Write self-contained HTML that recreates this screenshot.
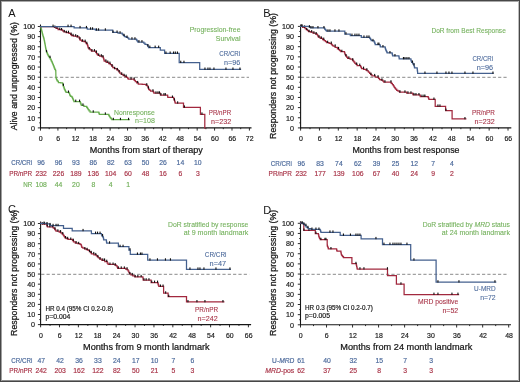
<!DOCTYPE html>
<html><head><meta charset="utf-8"><style>
html,body{margin:0;padding:0;background:#fff;}
body{width:520px;height:382px;overflow:hidden;}
svg{display:block;font-family:"Liberation Sans", sans-serif;will-change:transform;}

</style></head><body>
<svg width="520" height="382" viewBox="0 0 520 382">
<rect x="0" y="0" width="520" height="382" fill="#fff"/>
<text x="8.3" y="16.7" font-size="11" fill="#161616" stroke="#161616" stroke-width="0" text-anchor="start">A</text>
<text transform="translate(16.5,130.3) rotate(-90)" x="0" y="0" font-size="9.8" fill="#161616" stroke="#161616" stroke-width="0.26" textLength="108.2" lengthAdjust="spacingAndGlyphs">Alive and unprogressed (%)</text>
<line x1="44.10" y1="77.30" x2="249.00" y2="77.30" stroke="#8a8a8a" stroke-width="1.0" stroke-dasharray="3.2,2.13"/>
<line x1="40.50" y1="24.50" x2="40.50" y2="128.40" stroke="#161616" stroke-width="1.1"/>
<line x1="40.00" y1="127.90" x2="251.50" y2="127.90" stroke="#161616" stroke-width="1.1"/>
<line x1="37.80" y1="127.90" x2="40.50" y2="127.90" stroke="#161616" stroke-width="0.9"/>
<line x1="39.20" y1="122.83" x2="40.50" y2="122.83" stroke="#161616" stroke-width="0.9"/>
<text x="35.1" y="130.7" font-size="7.6" fill="#161616" stroke="#161616" stroke-width="0.18" text-anchor="end" textLength="4.0" lengthAdjust="spacingAndGlyphs">0</text>
<line x1="37.80" y1="117.76" x2="40.50" y2="117.76" stroke="#161616" stroke-width="0.9"/>
<line x1="39.20" y1="112.69" x2="40.50" y2="112.69" stroke="#161616" stroke-width="0.9"/>
<text x="35.1" y="120.5" font-size="7.6" fill="#161616" stroke="#161616" stroke-width="0.18" text-anchor="end" textLength="7.9" lengthAdjust="spacingAndGlyphs">10</text>
<line x1="37.80" y1="107.62" x2="40.50" y2="107.62" stroke="#161616" stroke-width="0.9"/>
<line x1="39.20" y1="102.55" x2="40.50" y2="102.55" stroke="#161616" stroke-width="0.9"/>
<text x="35.1" y="110.4" font-size="7.6" fill="#161616" stroke="#161616" stroke-width="0.18" text-anchor="end" textLength="7.9" lengthAdjust="spacingAndGlyphs">20</text>
<line x1="37.80" y1="97.48" x2="40.50" y2="97.48" stroke="#161616" stroke-width="0.9"/>
<line x1="39.20" y1="92.41" x2="40.50" y2="92.41" stroke="#161616" stroke-width="0.9"/>
<text x="35.1" y="100.2" font-size="7.6" fill="#161616" stroke="#161616" stroke-width="0.18" text-anchor="end" textLength="7.9" lengthAdjust="spacingAndGlyphs">30</text>
<line x1="37.80" y1="87.34" x2="40.50" y2="87.34" stroke="#161616" stroke-width="0.9"/>
<line x1="39.20" y1="82.27" x2="40.50" y2="82.27" stroke="#161616" stroke-width="0.9"/>
<text x="35.1" y="90.1" font-size="7.6" fill="#161616" stroke="#161616" stroke-width="0.18" text-anchor="end" textLength="7.9" lengthAdjust="spacingAndGlyphs">40</text>
<line x1="37.80" y1="77.20" x2="40.50" y2="77.20" stroke="#161616" stroke-width="0.9"/>
<line x1="39.20" y1="72.13" x2="40.50" y2="72.13" stroke="#161616" stroke-width="0.9"/>
<text x="35.1" y="80.0" font-size="7.6" fill="#161616" stroke="#161616" stroke-width="0.18" text-anchor="end" textLength="7.9" lengthAdjust="spacingAndGlyphs">50</text>
<line x1="37.80" y1="67.06" x2="40.50" y2="67.06" stroke="#161616" stroke-width="0.9"/>
<line x1="39.20" y1="61.99" x2="40.50" y2="61.99" stroke="#161616" stroke-width="0.9"/>
<text x="35.1" y="69.8" font-size="7.6" fill="#161616" stroke="#161616" stroke-width="0.18" text-anchor="end" textLength="7.9" lengthAdjust="spacingAndGlyphs">60</text>
<line x1="37.80" y1="56.92" x2="40.50" y2="56.92" stroke="#161616" stroke-width="0.9"/>
<line x1="39.20" y1="51.85" x2="40.50" y2="51.85" stroke="#161616" stroke-width="0.9"/>
<text x="35.1" y="59.7" font-size="7.6" fill="#161616" stroke="#161616" stroke-width="0.18" text-anchor="end" textLength="7.9" lengthAdjust="spacingAndGlyphs">70</text>
<line x1="37.80" y1="46.78" x2="40.50" y2="46.78" stroke="#161616" stroke-width="0.9"/>
<line x1="39.20" y1="41.71" x2="40.50" y2="41.71" stroke="#161616" stroke-width="0.9"/>
<text x="35.1" y="49.5" font-size="7.6" fill="#161616" stroke="#161616" stroke-width="0.18" text-anchor="end" textLength="7.9" lengthAdjust="spacingAndGlyphs">80</text>
<line x1="37.80" y1="36.64" x2="40.50" y2="36.64" stroke="#161616" stroke-width="0.9"/>
<line x1="39.20" y1="31.57" x2="40.50" y2="31.57" stroke="#161616" stroke-width="0.9"/>
<text x="35.1" y="39.4" font-size="7.6" fill="#161616" stroke="#161616" stroke-width="0.18" text-anchor="end" textLength="7.9" lengthAdjust="spacingAndGlyphs">90</text>
<line x1="37.80" y1="26.50" x2="40.50" y2="26.50" stroke="#161616" stroke-width="0.9"/>
<text x="35.1" y="29.2" font-size="7.6" fill="#161616" stroke="#161616" stroke-width="0.18" text-anchor="end" textLength="11.9" lengthAdjust="spacingAndGlyphs">100</text>
<line x1="40.50" y1="127.90" x2="40.50" y2="130.60" stroke="#161616" stroke-width="0.9"/>
<line x1="49.20" y1="127.90" x2="49.20" y2="129.20" stroke="#161616" stroke-width="0.9"/>
<text x="40.8" y="140.9" font-size="7.6" fill="#161616" stroke="#161616" stroke-width="0.18" text-anchor="middle" textLength="3.9" lengthAdjust="spacingAndGlyphs">0</text>
<line x1="57.91" y1="127.90" x2="57.91" y2="130.60" stroke="#161616" stroke-width="0.9"/>
<line x1="66.61" y1="127.90" x2="66.61" y2="129.20" stroke="#161616" stroke-width="0.9"/>
<text x="58.2" y="140.9" font-size="7.6" fill="#161616" stroke="#161616" stroke-width="0.18" text-anchor="middle" textLength="3.9" lengthAdjust="spacingAndGlyphs">6</text>
<line x1="75.32" y1="127.90" x2="75.32" y2="130.60" stroke="#161616" stroke-width="0.9"/>
<line x1="84.02" y1="127.90" x2="84.02" y2="129.20" stroke="#161616" stroke-width="0.9"/>
<text x="75.6" y="140.9" font-size="7.6" fill="#161616" stroke="#161616" stroke-width="0.18" text-anchor="middle" textLength="7.7" lengthAdjust="spacingAndGlyphs">12</text>
<line x1="92.72" y1="127.90" x2="92.72" y2="130.60" stroke="#161616" stroke-width="0.9"/>
<line x1="101.43" y1="127.90" x2="101.43" y2="129.20" stroke="#161616" stroke-width="0.9"/>
<text x="93.0" y="140.9" font-size="7.6" fill="#161616" stroke="#161616" stroke-width="0.18" text-anchor="middle" textLength="7.7" lengthAdjust="spacingAndGlyphs">18</text>
<line x1="110.13" y1="127.90" x2="110.13" y2="130.60" stroke="#161616" stroke-width="0.9"/>
<line x1="118.84" y1="127.90" x2="118.84" y2="129.20" stroke="#161616" stroke-width="0.9"/>
<text x="110.4" y="140.9" font-size="7.6" fill="#161616" stroke="#161616" stroke-width="0.18" text-anchor="middle" textLength="7.7" lengthAdjust="spacingAndGlyphs">24</text>
<line x1="127.54" y1="127.90" x2="127.54" y2="130.60" stroke="#161616" stroke-width="0.9"/>
<line x1="136.25" y1="127.90" x2="136.25" y2="129.20" stroke="#161616" stroke-width="0.9"/>
<text x="127.8" y="140.9" font-size="7.6" fill="#161616" stroke="#161616" stroke-width="0.18" text-anchor="middle" textLength="7.7" lengthAdjust="spacingAndGlyphs">30</text>
<line x1="144.95" y1="127.90" x2="144.95" y2="130.60" stroke="#161616" stroke-width="0.9"/>
<line x1="153.65" y1="127.90" x2="153.65" y2="129.20" stroke="#161616" stroke-width="0.9"/>
<text x="145.2" y="140.9" font-size="7.6" fill="#161616" stroke="#161616" stroke-width="0.18" text-anchor="middle" textLength="7.7" lengthAdjust="spacingAndGlyphs">36</text>
<line x1="162.36" y1="127.90" x2="162.36" y2="130.60" stroke="#161616" stroke-width="0.9"/>
<line x1="171.06" y1="127.90" x2="171.06" y2="129.20" stroke="#161616" stroke-width="0.9"/>
<text x="162.7" y="140.9" font-size="7.6" fill="#161616" stroke="#161616" stroke-width="0.18" text-anchor="middle" textLength="7.7" lengthAdjust="spacingAndGlyphs">42</text>
<line x1="179.77" y1="127.90" x2="179.77" y2="130.60" stroke="#161616" stroke-width="0.9"/>
<line x1="188.47" y1="127.90" x2="188.47" y2="129.20" stroke="#161616" stroke-width="0.9"/>
<text x="180.1" y="140.9" font-size="7.6" fill="#161616" stroke="#161616" stroke-width="0.18" text-anchor="middle" textLength="7.7" lengthAdjust="spacingAndGlyphs">48</text>
<line x1="197.18" y1="127.90" x2="197.18" y2="130.60" stroke="#161616" stroke-width="0.9"/>
<line x1="205.88" y1="127.90" x2="205.88" y2="129.20" stroke="#161616" stroke-width="0.9"/>
<text x="197.5" y="140.9" font-size="7.6" fill="#161616" stroke="#161616" stroke-width="0.18" text-anchor="middle" textLength="7.7" lengthAdjust="spacingAndGlyphs">54</text>
<line x1="214.58" y1="127.90" x2="214.58" y2="130.60" stroke="#161616" stroke-width="0.9"/>
<line x1="223.29" y1="127.90" x2="223.29" y2="129.20" stroke="#161616" stroke-width="0.9"/>
<text x="214.9" y="140.9" font-size="7.6" fill="#161616" stroke="#161616" stroke-width="0.18" text-anchor="middle" textLength="7.7" lengthAdjust="spacingAndGlyphs">60</text>
<line x1="231.99" y1="127.90" x2="231.99" y2="130.60" stroke="#161616" stroke-width="0.9"/>
<line x1="240.70" y1="127.90" x2="240.70" y2="129.20" stroke="#161616" stroke-width="0.9"/>
<text x="232.3" y="140.9" font-size="7.6" fill="#161616" stroke="#161616" stroke-width="0.18" text-anchor="middle" textLength="7.7" lengthAdjust="spacingAndGlyphs">66</text>
<line x1="249.40" y1="127.90" x2="249.40" y2="130.60" stroke="#161616" stroke-width="0.9"/>
<text x="249.7" y="140.9" font-size="7.6" fill="#161616" stroke="#161616" stroke-width="0.18" text-anchor="middle" textLength="7.7" lengthAdjust="spacingAndGlyphs">72</text>
<text x="89.8" y="153.3" font-size="8.2" fill="#161616" stroke="#161616" stroke-width="0.2" text-anchor="start" textLength="113.0" lengthAdjust="spacingAndGlyphs">Months from start of therapy</text>
<polyline points="40.7,26.7 40.9,26.7 40.9,27.9 41.2,27.9 41.2,29.1 41.5,29.1 41.5,30.4 41.8,30.4 41.8,31.6 42.1,31.6 42.1,32.8 42.4,32.8 42.4,34.0 42.6,34.0 42.8,34.0 42.8,35.3 43.1,35.3 43.1,36.6 43.5,36.6 43.5,37.9 43.9,37.9 43.9,39.2 44.2,39.2 44.2,40.5 44.4,40.5 44.5,40.5 44.5,41.8 44.7,41.8 44.7,43.0 45.0,43.0 45.0,44.3 45.2,44.3 45.2,45.5 45.4,45.5 45.4,46.8 45.6,46.8 45.6,48.1 45.9,48.1 45.9,49.3 46.1,49.3 46.1,50.6 46.2,50.6 46.4,50.6 46.4,51.8 46.9,51.8 46.9,52.9 47.4,52.9 47.4,54.1 47.9,54.1 47.9,55.2 48.1,55.2 48.5,55.2 48.5,56.4 49.3,56.4 49.3,57.6 50.1,57.6 50.1,58.8 50.5,58.8 50.8,58.8 50.8,59.9 51.3,59.9 51.3,61.1 51.9,61.1 51.9,62.2 52.4,62.2 52.4,63.4 52.7,63.4 52.9,63.4 52.9,64.5 53.4,64.5 53.4,65.7 53.8,65.7 53.8,66.8 54.3,66.8 54.3,68.0 54.5,68.0 54.8,68.0 54.8,69.3 55.5,69.3 55.5,70.7 55.8,70.7 55.9,76.9 56.0,76.9 56.0,77.9 56.3,77.9 56.3,78.9 56.6,78.9 56.6,79.9 56.8,79.9 57.3,79.9 57.3,81.2 58.4,81.2 58.4,82.5 58.9,82.5 60.6,82.5 60.6,82.9 62.4,82.9 62.6,82.9 62.6,84.2 63.0,84.2 63.0,85.5 63.2,85.5 63.4,85.5 63.4,86.7 63.9,86.7 63.9,87.8 64.3,87.8 64.3,89.0 64.5,89.0 64.8,89.0 64.8,90.1 65.4,90.1 65.4,91.3 66.0,91.3 66.0,92.4 66.3,92.4 68.9,92.4 69.1,92.4 69.1,93.4 69.6,93.4 69.6,94.5 70.0,94.5 70.0,95.5 70.2,95.5 70.7,95.5 70.7,96.3 71.8,96.3 71.8,97.2 72.3,97.2 72.5,97.2 72.5,98.3 73.0,98.3 73.0,99.3 73.4,99.3 73.4,100.4 73.9,100.4 73.9,101.5 74.1,101.5 80.1,101.5 80.3,101.5 80.3,102.8 80.8,102.8 80.8,104.0 81.3,104.0 81.3,105.3 81.6,105.3 83.9,105.3 83.9,106.3 86.3,106.3 86.7,106.3 86.7,107.4 87.4,107.4 87.4,108.4 88.1,108.4 88.1,109.5 88.5,109.5 89.0,109.5 89.0,110.8 90.1,110.8 90.1,112.2 90.6,112.2 98.5,112.2 98.8,112.2 98.8,113.2 99.3,113.2 99.3,114.3 99.6,114.3 108.6,114.3 108.8,114.3 108.8,115.3 109.3,115.3 109.3,116.4 109.6,116.4 110.0,116.4 110.0,117.5 110.9,117.5 110.9,118.6 111.8,118.6 111.8,119.7 112.3,119.7 129.2,119.7" fill="none" stroke="#66ad4c" stroke-width="1.25" stroke-linejoin="miter" stroke-linecap="square"/>
<rect x="46.0" y="49.9" width="1.1" height="2.3" fill="#111"/>
<rect x="49.5" y="55.7" width="1.1" height="2.3" fill="#111"/>
<rect x="62.9" y="83.6" width="1.1" height="2.3" fill="#111"/>
<rect x="67.9" y="90.5" width="1.1" height="2.3" fill="#111"/>
<rect x="75.2" y="99.6" width="1.1" height="2.3" fill="#111"/>
<rect x="79.0" y="99.6" width="1.1" height="2.3" fill="#111"/>
<rect x="82.4" y="103.4" width="1.1" height="2.3" fill="#111"/>
<rect x="92.7" y="110.3" width="1.1" height="2.3" fill="#111"/>
<rect x="104.8" y="112.4" width="1.1" height="2.3" fill="#111"/>
<rect x="112.8" y="117.8" width="1.1" height="2.3" fill="#111"/>
<rect x="119.9" y="117.8" width="1.1" height="2.3" fill="#111"/>
<rect x="128.0" y="117.8" width="1.1" height="2.3" fill="#111"/>
<polyline points="40.5,26.5 53.6,26.5 54.4,26.5 54.4,27.4 56.0,27.4 56.0,28.3 56.8,28.3 58.1,28.3 58.1,29.5 59.5,29.5 60.7,29.5 60.7,29.9 61.9,29.9 62.6,29.9 62.6,30.9 63.9,30.9 63.9,31.8 64.6,31.8 66.2,31.8 66.2,32.6 67.8,32.6 68.9,32.6 68.9,33.4 70.1,33.4 70.6,33.4 70.6,34.5 71.6,34.5 71.6,35.7 72.1,35.7 73.5,35.7 73.5,36.1 74.9,36.1 76.8,36.1 76.8,36.9 78.8,36.9 79.1,36.9 79.1,38.0 79.6,38.0 79.6,39.0 80.1,39.0 80.1,40.1 80.4,40.1 81.6,40.1 81.6,41.2 82.7,41.2 83.9,41.2 83.9,41.5 85.1,41.5 85.5,41.5 85.5,42.6 86.3,42.6 86.3,43.6 87.1,43.6 87.1,44.7 87.5,44.7 87.6,44.7 87.6,45.7 87.9,45.7 87.9,46.8 88.2,46.8 88.2,47.8 88.3,47.8 89.0,47.8 89.0,48.9 90.2,48.9 90.2,49.9 91.5,49.9 91.5,51.0 92.2,51.0 95.4,51.0 95.8,51.0 95.8,52.4 96.5,52.4 96.5,53.7 96.9,53.7 97.3,53.7 97.3,54.5 98.1,54.5 98.1,55.3 98.5,55.3 99.7,55.3 99.7,56.1 102.0,56.1 102.0,56.9 103.2,56.9 103.4,56.9 103.4,58.0 103.7,58.0 103.7,59.0 104.0,59.0 104.0,60.1 104.2,60.1 104.2,61.2 104.4,61.2 106.2,61.2 106.2,62.4 107.9,62.4 108.7,62.4 108.7,63.5 110.3,63.5 110.3,64.7 111.1,64.7 111.7,64.7 111.7,66.1 112.8,66.1 112.8,67.5 113.4,67.5 114.5,67.5 114.5,68.7 116.8,68.7 116.8,69.8 117.9,69.8 118.3,69.8 118.3,70.9 119.1,70.9 119.1,71.9 119.8,71.9 119.8,73.0 120.2,73.0 121.2,73.0 121.2,74.3 123.1,74.3 123.1,75.7 124.1,75.7 124.9,75.7 124.9,76.5 126.5,76.5 126.5,77.3 127.3,77.3 127.6,77.3 127.6,78.2 128.2,78.2 128.2,79.2 128.5,79.2 133.6,79.2 134.2,79.2 134.2,80.4 135.3,80.4 135.3,81.6 135.9,81.6 136.7,81.6 136.7,82.8 138.3,82.8 138.3,84.0 139.1,84.0 142.2,84.0 142.2,84.4 145.3,84.4 145.9,84.4 145.9,85.2 147.1,85.2 147.1,85.9 147.7,85.9 147.9,85.9 147.9,87.1 148.3,87.1 148.3,88.2 148.7,88.2 148.7,89.4 148.9,89.4 149.4,89.4 149.4,90.2 150.6,90.2 150.6,91.1 151.1,91.1 153.2,91.1 153.4,91.1 153.4,92.2 153.9,92.2 153.9,93.2 154.1,93.2 160.1,93.2 160.2,93.2 160.2,94.1 160.5,94.1 160.5,95.0 160.6,95.0 167.5,95.0 167.6,95.0 167.6,96.2 167.8,96.2 167.8,97.4 167.9,97.4 173.5,97.4 173.7,97.4 173.7,98.8 174.2,98.8 174.2,100.2 174.4,100.2 174.6,100.2 174.6,101.2 174.9,101.2 174.9,102.2 175.2,102.2 175.2,103.2 175.3,103.2 183.5,103.2 183.5,107.3 200.4,107.3 200.4,114.3 204.8,114.3 204.8,128.0" fill="none" stroke="#a2283e" stroke-width="1.25" stroke-linejoin="miter" stroke-linecap="square"/>
<rect x="54.3" y="25.5" width="1.1" height="2.3" fill="#111"/>
<rect x="56.5" y="26.4" width="1.1" height="2.3" fill="#111"/>
<rect x="59.2" y="27.6" width="1.1" height="2.3" fill="#111"/>
<rect x="61.0" y="28.0" width="1.1" height="2.3" fill="#111"/>
<rect x="63.7" y="29.9" width="1.1" height="2.3" fill="#111"/>
<rect x="65.8" y="30.7" width="1.1" height="2.3" fill="#111"/>
<rect x="67.9" y="30.7" width="1.1" height="2.3" fill="#111"/>
<rect x="70.6" y="32.6" width="1.1" height="2.3" fill="#111"/>
<rect x="72.5" y="33.8" width="1.1" height="2.3" fill="#111"/>
<rect x="75.1" y="34.2" width="1.1" height="2.3" fill="#111"/>
<rect x="77.1" y="35.0" width="1.1" height="2.3" fill="#111"/>
<rect x="79.4" y="37.1" width="1.1" height="2.3" fill="#111"/>
<rect x="82.0" y="39.3" width="1.1" height="2.3" fill="#111"/>
<rect x="84.6" y="39.6" width="1.1" height="2.3" fill="#111"/>
<rect x="86.3" y="41.7" width="1.1" height="2.3" fill="#111"/>
<rect x="88.7" y="47.0" width="1.1" height="2.3" fill="#111"/>
<rect x="91.4" y="49.1" width="1.1" height="2.3" fill="#111"/>
<rect x="93.9" y="49.1" width="1.1" height="2.3" fill="#111"/>
<rect x="95.9" y="50.5" width="1.1" height="2.3" fill="#111"/>
<rect x="98.1" y="53.4" width="1.1" height="2.3" fill="#111"/>
<rect x="100.8" y="54.2" width="1.1" height="2.3" fill="#111"/>
<rect x="102.4" y="55.0" width="1.1" height="2.3" fill="#111"/>
<rect x="105.3" y="59.3" width="1.1" height="2.3" fill="#111"/>
<rect x="107.2" y="60.5" width="1.1" height="2.3" fill="#111"/>
<rect x="109.4" y="61.6" width="1.1" height="2.3" fill="#111"/>
<rect x="111.6" y="64.2" width="1.1" height="2.3" fill="#111"/>
<rect x="114.1" y="66.8" width="1.1" height="2.3" fill="#111"/>
<rect x="116.8" y="67.9" width="1.1" height="2.3" fill="#111"/>
<rect x="118.6" y="70.0" width="1.1" height="2.3" fill="#111"/>
<rect x="121.2" y="72.4" width="1.1" height="2.3" fill="#111"/>
<rect x="123.6" y="73.8" width="1.1" height="2.3" fill="#111"/>
<rect x="125.6" y="74.6" width="1.1" height="2.3" fill="#111"/>
<rect x="130.5" y="77.3" width="1.1" height="2.3" fill="#111"/>
<rect x="133.6" y="77.3" width="1.1" height="2.3" fill="#111"/>
<rect x="137.1" y="80.9" width="1.1" height="2.3" fill="#111"/>
<rect x="146.2" y="83.2" width="1.1" height="2.3" fill="#111"/>
<rect x="147.9" y="86.3" width="1.1" height="2.3" fill="#111"/>
<rect x="152.4" y="89.2" width="1.1" height="2.3" fill="#111"/>
<rect x="155.4" y="91.3" width="1.1" height="2.3" fill="#111"/>
<rect x="157.4" y="91.3" width="1.1" height="2.3" fill="#111"/>
<rect x="158.9" y="91.3" width="1.1" height="2.3" fill="#111"/>
<rect x="160.4" y="93.1" width="1.1" height="2.3" fill="#111"/>
<rect x="163.4" y="93.1" width="1.1" height="2.3" fill="#111"/>
<rect x="164.8" y="93.1" width="1.1" height="2.3" fill="#111"/>
<rect x="171.9" y="95.5" width="1.1" height="2.3" fill="#111"/>
<rect x="173.9" y="98.3" width="1.1" height="2.3" fill="#111"/>
<rect x="177.1" y="101.3" width="1.1" height="2.3" fill="#111"/>
<rect x="183.9" y="105.4" width="1.1" height="2.3" fill="#111"/>
<rect x="201.4" y="112.4" width="1.1" height="2.3" fill="#111"/>
<polyline points="40.5,26.5 74.1,26.5 74.1,27.8 87.3,27.8 87.3,29.2 95.4,29.2 95.4,30.2 112.7,30.2 112.7,32.4 118.0,32.4 118.0,33.1 121.9,33.1 122.2,33.1 122.2,34.0 122.9,34.0 122.9,34.8 123.2,34.8 123.6,34.8 123.6,35.6 124.5,35.6 124.5,36.5 124.9,36.5 126.2,36.5 126.2,37.4 127.5,37.4 127.9,37.4 127.9,38.2 128.8,38.2 128.8,39.1 129.2,39.1 136.1,39.1 136.5,39.1 136.5,40.1 137.2,40.1 137.2,41.0 137.9,41.0 137.9,42.0 138.3,42.0 143.1,42.0 143.8,42.0 143.8,43.1 145.0,43.1 145.0,44.3 145.7,44.3 146.6,44.3 146.6,44.7 147.4,44.7 147.8,44.7 147.8,46.1 148.5,46.1 148.5,47.5 148.9,47.5 160.3,47.5 160.3,50.2 164.6,50.2 164.6,53.4 179.2,53.4 179.2,62.6 199.7,62.6 199.7,69.4 240.5,69.4" fill="none" stroke="#44608e" stroke-width="1.25" stroke-linejoin="miter" stroke-linecap="square"/>
<rect x="52.5" y="24.6" width="1.1" height="2.3" fill="#111"/>
<rect x="67.5" y="24.6" width="1.1" height="2.3" fill="#111"/>
<rect x="70.5" y="24.6" width="1.1" height="2.3" fill="#111"/>
<rect x="79.5" y="25.9" width="1.1" height="2.3" fill="#111"/>
<rect x="85.9" y="25.9" width="1.1" height="2.3" fill="#111"/>
<rect x="90.0" y="27.3" width="1.1" height="2.3" fill="#111"/>
<rect x="92.0" y="27.3" width="1.1" height="2.3" fill="#111"/>
<rect x="96.0" y="28.3" width="1.1" height="2.3" fill="#111"/>
<rect x="98.0" y="28.3" width="1.1" height="2.3" fill="#111"/>
<rect x="104.8" y="28.3" width="1.1" height="2.3" fill="#111"/>
<rect x="112.5" y="30.5" width="1.1" height="2.3" fill="#111"/>
<rect x="116.5" y="30.5" width="1.1" height="2.3" fill="#111"/>
<rect x="119.5" y="31.2" width="1.1" height="2.3" fill="#111"/>
<rect x="123.5" y="33.8" width="1.1" height="2.3" fill="#111"/>
<rect x="126.5" y="35.5" width="1.1" height="2.3" fill="#111"/>
<rect x="131.4" y="37.2" width="1.1" height="2.3" fill="#111"/>
<rect x="134.4" y="37.2" width="1.1" height="2.3" fill="#111"/>
<rect x="138.4" y="40.1" width="1.1" height="2.3" fill="#111"/>
<rect x="141.4" y="40.1" width="1.1" height="2.3" fill="#111"/>
<rect x="147.3" y="44.2" width="1.1" height="2.3" fill="#111"/>
<rect x="149.3" y="45.6" width="1.1" height="2.3" fill="#111"/>
<rect x="154.6" y="45.6" width="1.1" height="2.3" fill="#111"/>
<rect x="158.1" y="45.6" width="1.1" height="2.3" fill="#111"/>
<rect x="165.4" y="51.5" width="1.1" height="2.3" fill="#111"/>
<rect x="169.6" y="51.5" width="1.1" height="2.3" fill="#111"/>
<rect x="173.0" y="51.5" width="1.1" height="2.3" fill="#111"/>
<rect x="174.8" y="51.5" width="1.1" height="2.3" fill="#111"/>
<rect x="176.9" y="51.5" width="1.1" height="2.3" fill="#111"/>
<rect x="180.2" y="60.7" width="1.1" height="2.3" fill="#111"/>
<rect x="183.4" y="60.7" width="1.1" height="2.3" fill="#111"/>
<rect x="204.4" y="67.5" width="1.1" height="2.3" fill="#111"/>
<rect x="207.4" y="67.5" width="1.1" height="2.3" fill="#111"/>
<rect x="209.4" y="67.5" width="1.1" height="2.3" fill="#111"/>
<rect x="213.4" y="67.5" width="1.1" height="2.3" fill="#111"/>
<rect x="225.4" y="67.5" width="1.1" height="2.3" fill="#111"/>
<rect x="232.4" y="67.5" width="1.1" height="2.3" fill="#111"/>
<rect x="239.4" y="67.5" width="1.1" height="2.3" fill="#111"/>
<text x="240.5" y="32.4" font-size="8.0" fill="#72b05a" stroke="#72b05a" stroke-width="0.1" text-anchor="end" textLength="50.8" lengthAdjust="spacingAndGlyphs">Progression-free</text>
<text x="240.5" y="41.4" font-size="8.0" fill="#72b05a" stroke="#72b05a" stroke-width="0.1" text-anchor="end" textLength="24.7" lengthAdjust="spacingAndGlyphs">Survival</text>
<text x="240.2" y="56.0" font-size="8.0" fill="#4a689a" stroke="#4a689a" stroke-width="0.1" text-anchor="end" textLength="20.9" lengthAdjust="spacingAndGlyphs">CR/CRi</text>
<text x="240.2" y="64.6" font-size="8.0" fill="#4a689a" stroke="#4a689a" stroke-width="0.1" text-anchor="end" textLength="16.2" lengthAdjust="spacingAndGlyphs">n=96</text>
<text x="154.8" y="114.6" font-size="8.0" fill="#72b05a" stroke="#72b05a" stroke-width="0.1" text-anchor="end" textLength="40.8" lengthAdjust="spacingAndGlyphs">Nonresponse</text>
<text x="154.8" y="123.3" font-size="8.0" fill="#72b05a" stroke="#72b05a" stroke-width="0.1" text-anchor="end" textLength="19.8" lengthAdjust="spacingAndGlyphs">n=108</text>
<text x="231.1" y="115.4" font-size="8.0" fill="#a83347" stroke="#a83347" stroke-width="0.1" text-anchor="end" textLength="22.3" lengthAdjust="spacingAndGlyphs">PR/nPR</text>
<text x="231.1" y="124.1" font-size="8.0" fill="#a83347" stroke="#a83347" stroke-width="0.1" text-anchor="end" textLength="20.0" lengthAdjust="spacingAndGlyphs">n=232</text>
<text x="32.2" y="165.3" font-size="7.6" fill="#4a689a" stroke="#4a689a" stroke-width="0.18" text-anchor="end" textLength="21.0" lengthAdjust="spacingAndGlyphs">CR/CRi</text>
<text x="41.1" y="165.3" font-size="7.6" fill="#4a689a" stroke="#4a689a" stroke-width="0.18" text-anchor="middle" textLength="7.6" lengthAdjust="spacingAndGlyphs">96</text>
<text x="58.5" y="165.3" font-size="7.6" fill="#4a689a" stroke="#4a689a" stroke-width="0.18" text-anchor="middle" textLength="7.6" lengthAdjust="spacingAndGlyphs">96</text>
<text x="75.9" y="165.3" font-size="7.6" fill="#4a689a" stroke="#4a689a" stroke-width="0.18" text-anchor="middle" textLength="7.6" lengthAdjust="spacingAndGlyphs">93</text>
<text x="93.3" y="165.3" font-size="7.6" fill="#4a689a" stroke="#4a689a" stroke-width="0.18" text-anchor="middle" textLength="7.6" lengthAdjust="spacingAndGlyphs">86</text>
<text x="110.7" y="165.3" font-size="7.6" fill="#4a689a" stroke="#4a689a" stroke-width="0.18" text-anchor="middle" textLength="7.6" lengthAdjust="spacingAndGlyphs">82</text>
<text x="128.1" y="165.3" font-size="7.6" fill="#4a689a" stroke="#4a689a" stroke-width="0.18" text-anchor="middle" textLength="7.6" lengthAdjust="spacingAndGlyphs">63</text>
<text x="145.5" y="165.3" font-size="7.6" fill="#4a689a" stroke="#4a689a" stroke-width="0.18" text-anchor="middle" textLength="7.6" lengthAdjust="spacingAndGlyphs">50</text>
<text x="163.0" y="165.3" font-size="7.6" fill="#4a689a" stroke="#4a689a" stroke-width="0.18" text-anchor="middle" textLength="7.6" lengthAdjust="spacingAndGlyphs">26</text>
<text x="180.4" y="165.3" font-size="7.6" fill="#4a689a" stroke="#4a689a" stroke-width="0.18" text-anchor="middle" textLength="7.6" lengthAdjust="spacingAndGlyphs">14</text>
<text x="197.8" y="165.3" font-size="7.6" fill="#4a689a" stroke="#4a689a" stroke-width="0.18" text-anchor="middle" textLength="7.6" lengthAdjust="spacingAndGlyphs">10</text>
<text x="32.2" y="176.1" font-size="7.6" fill="#a83347" stroke="#a83347" stroke-width="0.18" text-anchor="end" textLength="23.0" lengthAdjust="spacingAndGlyphs">PR/nPR</text>
<text x="41.1" y="176.1" font-size="7.6" fill="#a83347" stroke="#a83347" stroke-width="0.18" text-anchor="middle" textLength="11.4" lengthAdjust="spacingAndGlyphs">232</text>
<text x="58.5" y="176.1" font-size="7.6" fill="#a83347" stroke="#a83347" stroke-width="0.18" text-anchor="middle" textLength="11.4" lengthAdjust="spacingAndGlyphs">226</text>
<text x="75.9" y="176.1" font-size="7.6" fill="#a83347" stroke="#a83347" stroke-width="0.18" text-anchor="middle" textLength="11.4" lengthAdjust="spacingAndGlyphs">189</text>
<text x="93.3" y="176.1" font-size="7.6" fill="#a83347" stroke="#a83347" stroke-width="0.18" text-anchor="middle" textLength="11.4" lengthAdjust="spacingAndGlyphs">136</text>
<text x="110.7" y="176.1" font-size="7.6" fill="#a83347" stroke="#a83347" stroke-width="0.18" text-anchor="middle" textLength="11.4" lengthAdjust="spacingAndGlyphs">104</text>
<text x="128.1" y="176.1" font-size="7.6" fill="#a83347" stroke="#a83347" stroke-width="0.18" text-anchor="middle" textLength="7.6" lengthAdjust="spacingAndGlyphs">60</text>
<text x="145.5" y="176.1" font-size="7.6" fill="#a83347" stroke="#a83347" stroke-width="0.18" text-anchor="middle" textLength="7.6" lengthAdjust="spacingAndGlyphs">48</text>
<text x="163.0" y="176.1" font-size="7.6" fill="#a83347" stroke="#a83347" stroke-width="0.18" text-anchor="middle" textLength="7.6" lengthAdjust="spacingAndGlyphs">16</text>
<text x="180.4" y="176.1" font-size="7.6" fill="#a83347" stroke="#a83347" stroke-width="0.18" text-anchor="middle" textLength="3.8" lengthAdjust="spacingAndGlyphs">6</text>
<text x="197.8" y="176.1" font-size="7.6" fill="#a83347" stroke="#a83347" stroke-width="0.18" text-anchor="middle" textLength="3.8" lengthAdjust="spacingAndGlyphs">3</text>
<text x="32.2" y="186.7" font-size="7.6" fill="#72b05a" stroke="#72b05a" stroke-width="0.18" text-anchor="end" textLength="9.0" lengthAdjust="spacingAndGlyphs">NR</text>
<text x="41.1" y="186.7" font-size="7.6" fill="#72b05a" stroke="#72b05a" stroke-width="0.18" text-anchor="middle" textLength="11.4" lengthAdjust="spacingAndGlyphs">108</text>
<text x="58.5" y="186.7" font-size="7.6" fill="#72b05a" stroke="#72b05a" stroke-width="0.18" text-anchor="middle" textLength="7.6" lengthAdjust="spacingAndGlyphs">44</text>
<text x="75.9" y="186.7" font-size="7.6" fill="#72b05a" stroke="#72b05a" stroke-width="0.18" text-anchor="middle" textLength="7.6" lengthAdjust="spacingAndGlyphs">20</text>
<text x="93.3" y="186.7" font-size="7.6" fill="#72b05a" stroke="#72b05a" stroke-width="0.18" text-anchor="middle" textLength="3.8" lengthAdjust="spacingAndGlyphs">8</text>
<text x="110.7" y="186.7" font-size="7.6" fill="#72b05a" stroke="#72b05a" stroke-width="0.18" text-anchor="middle" textLength="3.8" lengthAdjust="spacingAndGlyphs">4</text>
<text x="128.1" y="186.7" font-size="7.6" fill="#72b05a" stroke="#72b05a" stroke-width="0.18" text-anchor="middle" textLength="3.8" lengthAdjust="spacingAndGlyphs">1</text>
<text x="263.3" y="16.6" font-size="11" fill="#161616" stroke="#161616" stroke-width="0" text-anchor="start">B</text>
<text transform="translate(276.2,138.9) rotate(-90)" x="0" y="0" font-size="9.8" fill="#161616" stroke="#161616" stroke-width="0.26" textLength="125.8" lengthAdjust="spacingAndGlyphs">Responders not progressing (%)</text>
<line x1="300.90" y1="77.30" x2="508.00" y2="77.30" stroke="#8a8a8a" stroke-width="1.0" stroke-dasharray="3.2,2.13"/>
<line x1="300.60" y1="24.40" x2="300.60" y2="128.40" stroke="#161616" stroke-width="1.1"/>
<line x1="300.10" y1="127.90" x2="511.30" y2="127.90" stroke="#161616" stroke-width="1.1"/>
<line x1="297.90" y1="127.90" x2="300.60" y2="127.90" stroke="#161616" stroke-width="0.9"/>
<line x1="299.30" y1="122.83" x2="300.60" y2="122.83" stroke="#161616" stroke-width="0.9"/>
<text x="293.9" y="130.7" font-size="7.6" fill="#161616" stroke="#161616" stroke-width="0.18" text-anchor="end" textLength="4.0" lengthAdjust="spacingAndGlyphs">0</text>
<line x1="297.90" y1="117.75" x2="300.60" y2="117.75" stroke="#161616" stroke-width="0.9"/>
<line x1="299.30" y1="112.67" x2="300.60" y2="112.67" stroke="#161616" stroke-width="0.9"/>
<text x="293.9" y="120.5" font-size="7.6" fill="#161616" stroke="#161616" stroke-width="0.18" text-anchor="end" textLength="7.9" lengthAdjust="spacingAndGlyphs">10</text>
<line x1="297.90" y1="107.60" x2="300.60" y2="107.60" stroke="#161616" stroke-width="0.9"/>
<line x1="299.30" y1="102.53" x2="300.60" y2="102.53" stroke="#161616" stroke-width="0.9"/>
<text x="293.9" y="110.4" font-size="7.6" fill="#161616" stroke="#161616" stroke-width="0.18" text-anchor="end" textLength="7.9" lengthAdjust="spacingAndGlyphs">20</text>
<line x1="297.90" y1="97.45" x2="300.60" y2="97.45" stroke="#161616" stroke-width="0.9"/>
<line x1="299.30" y1="92.38" x2="300.60" y2="92.38" stroke="#161616" stroke-width="0.9"/>
<text x="293.9" y="100.2" font-size="7.6" fill="#161616" stroke="#161616" stroke-width="0.18" text-anchor="end" textLength="7.9" lengthAdjust="spacingAndGlyphs">30</text>
<line x1="297.90" y1="87.30" x2="300.60" y2="87.30" stroke="#161616" stroke-width="0.9"/>
<line x1="299.30" y1="82.23" x2="300.60" y2="82.23" stroke="#161616" stroke-width="0.9"/>
<text x="293.9" y="90.1" font-size="7.6" fill="#161616" stroke="#161616" stroke-width="0.18" text-anchor="end" textLength="7.9" lengthAdjust="spacingAndGlyphs">40</text>
<line x1="297.90" y1="77.15" x2="300.60" y2="77.15" stroke="#161616" stroke-width="0.9"/>
<line x1="299.30" y1="72.08" x2="300.60" y2="72.08" stroke="#161616" stroke-width="0.9"/>
<text x="293.9" y="79.9" font-size="7.6" fill="#161616" stroke="#161616" stroke-width="0.18" text-anchor="end" textLength="7.9" lengthAdjust="spacingAndGlyphs">50</text>
<line x1="297.90" y1="67.00" x2="300.60" y2="67.00" stroke="#161616" stroke-width="0.9"/>
<line x1="299.30" y1="61.93" x2="300.60" y2="61.93" stroke="#161616" stroke-width="0.9"/>
<text x="293.9" y="69.8" font-size="7.6" fill="#161616" stroke="#161616" stroke-width="0.18" text-anchor="end" textLength="7.9" lengthAdjust="spacingAndGlyphs">60</text>
<line x1="297.90" y1="56.85" x2="300.60" y2="56.85" stroke="#161616" stroke-width="0.9"/>
<line x1="299.30" y1="51.78" x2="300.60" y2="51.78" stroke="#161616" stroke-width="0.9"/>
<text x="293.9" y="59.6" font-size="7.6" fill="#161616" stroke="#161616" stroke-width="0.18" text-anchor="end" textLength="7.9" lengthAdjust="spacingAndGlyphs">70</text>
<line x1="297.90" y1="46.70" x2="300.60" y2="46.70" stroke="#161616" stroke-width="0.9"/>
<line x1="299.30" y1="41.63" x2="300.60" y2="41.63" stroke="#161616" stroke-width="0.9"/>
<text x="293.9" y="49.5" font-size="7.6" fill="#161616" stroke="#161616" stroke-width="0.18" text-anchor="end" textLength="7.9" lengthAdjust="spacingAndGlyphs">80</text>
<line x1="297.90" y1="36.55" x2="300.60" y2="36.55" stroke="#161616" stroke-width="0.9"/>
<line x1="299.30" y1="31.48" x2="300.60" y2="31.48" stroke="#161616" stroke-width="0.9"/>
<text x="293.9" y="39.3" font-size="7.6" fill="#161616" stroke="#161616" stroke-width="0.18" text-anchor="end" textLength="7.9" lengthAdjust="spacingAndGlyphs">90</text>
<line x1="297.90" y1="26.40" x2="300.60" y2="26.40" stroke="#161616" stroke-width="0.9"/>
<text x="293.9" y="29.2" font-size="7.6" fill="#161616" stroke="#161616" stroke-width="0.18" text-anchor="end" textLength="11.9" lengthAdjust="spacingAndGlyphs">100</text>
<line x1="300.60" y1="127.90" x2="300.60" y2="130.60" stroke="#161616" stroke-width="0.9"/>
<line x1="310.03" y1="127.90" x2="310.03" y2="129.20" stroke="#161616" stroke-width="0.9"/>
<text x="300.9" y="140.9" font-size="7.6" fill="#161616" stroke="#161616" stroke-width="0.18" text-anchor="middle" textLength="3.9" lengthAdjust="spacingAndGlyphs">0</text>
<line x1="319.45" y1="127.90" x2="319.45" y2="130.60" stroke="#161616" stroke-width="0.9"/>
<line x1="328.88" y1="127.90" x2="328.88" y2="129.20" stroke="#161616" stroke-width="0.9"/>
<text x="319.8" y="140.9" font-size="7.6" fill="#161616" stroke="#161616" stroke-width="0.18" text-anchor="middle" textLength="3.9" lengthAdjust="spacingAndGlyphs">6</text>
<line x1="338.31" y1="127.90" x2="338.31" y2="130.60" stroke="#161616" stroke-width="0.9"/>
<line x1="347.74" y1="127.90" x2="347.74" y2="129.20" stroke="#161616" stroke-width="0.9"/>
<text x="338.6" y="140.9" font-size="7.6" fill="#161616" stroke="#161616" stroke-width="0.18" text-anchor="middle" textLength="7.7" lengthAdjust="spacingAndGlyphs">12</text>
<line x1="357.16" y1="127.90" x2="357.16" y2="130.60" stroke="#161616" stroke-width="0.9"/>
<line x1="366.59" y1="127.90" x2="366.59" y2="129.20" stroke="#161616" stroke-width="0.9"/>
<text x="357.5" y="140.9" font-size="7.6" fill="#161616" stroke="#161616" stroke-width="0.18" text-anchor="middle" textLength="7.7" lengthAdjust="spacingAndGlyphs">18</text>
<line x1="376.02" y1="127.90" x2="376.02" y2="130.60" stroke="#161616" stroke-width="0.9"/>
<line x1="385.45" y1="127.90" x2="385.45" y2="129.20" stroke="#161616" stroke-width="0.9"/>
<text x="376.3" y="140.9" font-size="7.6" fill="#161616" stroke="#161616" stroke-width="0.18" text-anchor="middle" textLength="7.7" lengthAdjust="spacingAndGlyphs">24</text>
<line x1="394.87" y1="127.90" x2="394.87" y2="130.60" stroke="#161616" stroke-width="0.9"/>
<line x1="404.30" y1="127.90" x2="404.30" y2="129.20" stroke="#161616" stroke-width="0.9"/>
<text x="395.2" y="140.9" font-size="7.6" fill="#161616" stroke="#161616" stroke-width="0.18" text-anchor="middle" textLength="7.7" lengthAdjust="spacingAndGlyphs">30</text>
<line x1="413.73" y1="127.90" x2="413.73" y2="130.60" stroke="#161616" stroke-width="0.9"/>
<line x1="423.15" y1="127.90" x2="423.15" y2="129.20" stroke="#161616" stroke-width="0.9"/>
<text x="414.0" y="140.9" font-size="7.6" fill="#161616" stroke="#161616" stroke-width="0.18" text-anchor="middle" textLength="7.7" lengthAdjust="spacingAndGlyphs">36</text>
<line x1="432.58" y1="127.90" x2="432.58" y2="130.60" stroke="#161616" stroke-width="0.9"/>
<line x1="442.01" y1="127.90" x2="442.01" y2="129.20" stroke="#161616" stroke-width="0.9"/>
<text x="432.9" y="140.9" font-size="7.6" fill="#161616" stroke="#161616" stroke-width="0.18" text-anchor="middle" textLength="7.7" lengthAdjust="spacingAndGlyphs">42</text>
<line x1="451.44" y1="127.90" x2="451.44" y2="130.60" stroke="#161616" stroke-width="0.9"/>
<line x1="460.86" y1="127.90" x2="460.86" y2="129.20" stroke="#161616" stroke-width="0.9"/>
<text x="451.7" y="140.9" font-size="7.6" fill="#161616" stroke="#161616" stroke-width="0.18" text-anchor="middle" textLength="7.7" lengthAdjust="spacingAndGlyphs">48</text>
<line x1="470.29" y1="127.90" x2="470.29" y2="130.60" stroke="#161616" stroke-width="0.9"/>
<line x1="479.72" y1="127.90" x2="479.72" y2="129.20" stroke="#161616" stroke-width="0.9"/>
<text x="470.6" y="140.9" font-size="7.6" fill="#161616" stroke="#161616" stroke-width="0.18" text-anchor="middle" textLength="7.7" lengthAdjust="spacingAndGlyphs">54</text>
<line x1="489.15" y1="127.90" x2="489.15" y2="130.60" stroke="#161616" stroke-width="0.9"/>
<line x1="498.57" y1="127.90" x2="498.57" y2="129.20" stroke="#161616" stroke-width="0.9"/>
<text x="489.4" y="140.9" font-size="7.6" fill="#161616" stroke="#161616" stroke-width="0.18" text-anchor="middle" textLength="7.7" lengthAdjust="spacingAndGlyphs">60</text>
<line x1="508.00" y1="127.90" x2="508.00" y2="130.60" stroke="#161616" stroke-width="0.9"/>
<text x="508.3" y="140.9" font-size="7.6" fill="#161616" stroke="#161616" stroke-width="0.18" text-anchor="middle" textLength="7.7" lengthAdjust="spacingAndGlyphs">66</text>
<text x="352.4" y="153.3" font-size="8.2" fill="#161616" stroke="#161616" stroke-width="0.2" text-anchor="start" textLength="107.1" lengthAdjust="spacingAndGlyphs">Months from best response</text>
<polyline points="300.6,26.3 302.6,26.3 302.6,27.3 304.5,27.3 305.1,27.3 305.1,28.5 306.3,28.5 306.3,29.7 306.9,29.7 307.5,29.7 307.5,30.6 308.6,30.6 308.6,31.6 309.2,31.6 310.4,31.6 310.4,32.0 311.6,32.0 313.0,32.0 313.0,33.2 314.3,33.2 315.7,33.2 315.7,34.0 317.1,34.0 317.4,34.0 317.4,35.0 317.9,35.0 317.9,36.1 318.4,36.1 318.4,37.1 318.6,37.1 320.2,37.1 320.2,38.3 321.8,38.3 322.6,38.3 322.6,39.5 324.1,39.5 324.1,40.7 324.9,40.7 325.5,40.7 325.5,41.7 326.7,41.7 326.7,42.6 327.3,42.6 329.1,42.6 329.1,43.4 330.8,43.4 331.3,43.4 331.3,44.3 332.2,44.3 332.2,45.3 333.1,45.3 333.1,46.2 333.6,46.2 335.1,46.2 335.1,47.4 336.7,47.4 337.4,47.4 337.4,48.8 338.1,48.8 338.6,48.8 338.6,49.7 339.7,49.7 339.7,50.7 340.8,50.7 340.8,51.6 341.3,51.6 344.4,51.6 344.5,51.6 344.5,52.6 344.8,52.6 344.8,53.7 345.1,53.7 345.1,54.7 345.2,54.7 345.7,54.7 345.7,55.9 346.6,55.9 346.6,57.1 347.6,57.1 347.6,58.3 348.1,58.3 350.1,58.3 350.1,59.1 352.1,59.1 352.5,59.1 352.5,60.1 353.2,60.1 353.2,61.2 354.0,61.2 354.0,62.2 354.4,62.2 354.9,62.2 354.9,63.3 356.0,63.3 356.0,64.4 357.1,64.4 357.1,65.5 357.6,65.5 360.3,65.5 360.6,65.5 360.6,66.5 361.1,66.5 361.1,67.5 361.6,67.5 361.6,68.5 361.9,68.5 363.6,68.5 363.6,69.3 365.4,69.3 366.0,69.3 366.0,70.1 367.2,70.1 367.2,70.9 367.8,70.9 368.4,70.9 368.4,72.1 369.6,72.1 369.6,73.3 370.7,73.3 370.7,74.6 371.9,74.6 371.9,75.8 372.5,75.8 375.2,75.8 375.2,77.1 378.0,77.1 378.5,77.1 378.5,78.4 379.5,78.4 379.5,79.7 380.0,79.7 381.2,79.7 381.2,80.2 382.4,80.2 382.9,80.2 382.9,81.2 383.8,81.2 383.8,82.1 384.3,82.1 390.6,82.1 391.2,82.1 391.2,83.3 392.4,83.3 392.4,84.5 393.0,84.5 393.3,84.5 393.3,85.6 393.9,85.6 393.9,86.8 394.6,86.8 394.6,87.9 394.9,87.9 395.5,87.9 395.5,89.1 396.7,89.1 396.7,90.3 397.3,90.3 398.0,90.3 398.0,91.2 399.5,91.2 399.5,92.2 400.2,92.2 406.0,92.2 406.7,92.2 406.7,93.2 407.4,93.2 412.7,93.2 412.8,93.2 412.8,94.1 413.1,94.1 413.1,94.9 413.2,94.9 419.9,94.9 420.0,94.9 420.0,95.7 420.3,95.7 420.3,96.5 420.4,96.5 428.1,96.5 428.2,96.5 428.2,97.5 428.6,97.5 428.6,98.4 428.9,98.4 428.9,99.4 429.0,99.4 435.2,99.4 435.2,106.3 445.6,106.3 445.6,110.5 452.1,110.5 452.1,118.9 465.8,118.9" fill="none" stroke="#a2283e" stroke-width="1.25" stroke-linejoin="miter" stroke-linecap="square"/>
<rect x="301.2" y="24.4" width="1.1" height="2.3" fill="#111"/>
<rect x="304.0" y="25.4" width="1.1" height="2.3" fill="#111"/>
<rect x="306.2" y="27.8" width="1.1" height="2.3" fill="#111"/>
<rect x="308.5" y="29.7" width="1.1" height="2.3" fill="#111"/>
<rect x="311.1" y="30.1" width="1.1" height="2.3" fill="#111"/>
<rect x="313.4" y="31.3" width="1.1" height="2.3" fill="#111"/>
<rect x="315.7" y="32.1" width="1.1" height="2.3" fill="#111"/>
<rect x="318.5" y="35.2" width="1.1" height="2.3" fill="#111"/>
<rect x="320.8" y="36.4" width="1.1" height="2.3" fill="#111"/>
<rect x="323.2" y="37.6" width="1.1" height="2.3" fill="#111"/>
<rect x="327.1" y="40.7" width="1.1" height="2.3" fill="#111"/>
<rect x="330.7" y="41.5" width="1.1" height="2.3" fill="#111"/>
<rect x="334.6" y="44.3" width="1.1" height="2.3" fill="#111"/>
<rect x="338.0" y="46.9" width="1.1" height="2.3" fill="#111"/>
<rect x="341.3" y="49.7" width="1.1" height="2.3" fill="#111"/>
<rect x="345.4" y="54.0" width="1.1" height="2.3" fill="#111"/>
<rect x="348.3" y="56.4" width="1.1" height="2.3" fill="#111"/>
<rect x="352.2" y="58.2" width="1.1" height="2.3" fill="#111"/>
<rect x="356.1" y="62.5" width="1.1" height="2.3" fill="#111"/>
<rect x="359.2" y="63.6" width="1.1" height="2.3" fill="#111"/>
<rect x="363.0" y="66.6" width="1.1" height="2.3" fill="#111"/>
<rect x="366.3" y="68.2" width="1.1" height="2.3" fill="#111"/>
<rect x="370.4" y="72.7" width="1.1" height="2.3" fill="#111"/>
<rect x="374.1" y="73.9" width="1.1" height="2.3" fill="#111"/>
<rect x="377.5" y="75.2" width="1.1" height="2.3" fill="#111"/>
<rect x="381.4" y="78.3" width="1.1" height="2.3" fill="#111"/>
<rect x="384.4" y="80.2" width="1.1" height="2.3" fill="#111"/>
<rect x="390.4" y="80.2" width="1.1" height="2.3" fill="#111"/>
<rect x="399.4" y="90.3" width="1.1" height="2.3" fill="#111"/>
<rect x="404.4" y="90.3" width="1.1" height="2.3" fill="#111"/>
<rect x="407.4" y="91.3" width="1.1" height="2.3" fill="#111"/>
<rect x="410.4" y="91.3" width="1.1" height="2.3" fill="#111"/>
<rect x="413.4" y="93.0" width="1.1" height="2.3" fill="#111"/>
<rect x="415.4" y="93.0" width="1.1" height="2.3" fill="#111"/>
<rect x="418.4" y="93.0" width="1.1" height="2.3" fill="#111"/>
<rect x="421.4" y="94.6" width="1.1" height="2.3" fill="#111"/>
<rect x="423.4" y="94.6" width="1.1" height="2.3" fill="#111"/>
<rect x="424.4" y="94.6" width="1.1" height="2.3" fill="#111"/>
<rect x="433.4" y="97.5" width="1.1" height="2.3" fill="#111"/>
<rect x="437.4" y="104.4" width="1.1" height="2.3" fill="#111"/>
<rect x="439.4" y="104.4" width="1.1" height="2.3" fill="#111"/>
<rect x="445.4" y="108.6" width="1.1" height="2.3" fill="#111"/>
<rect x="464.4" y="117.0" width="1.1" height="2.3" fill="#111"/>
<polyline points="300.6,26.3 308.4,26.3 309.2,26.3 309.2,27.1 310.8,27.1 310.8,27.9 311.6,27.9 324.1,27.9 324.6,27.9 324.6,29.0 325.5,29.0 325.5,30.1 326.4,30.1 326.4,31.2 326.9,31.2 344.8,31.2 344.8,34.1 350.3,34.1 350.3,35.5 361.3,35.5 361.3,37.3 369.5,37.3 369.8,37.3 369.8,38.4 370.5,38.4 370.5,39.4 371.2,39.4 371.2,40.5 371.5,40.5 372.8,40.5 372.8,40.8 374.0,40.8 374.2,40.8 374.2,42.0 374.8,42.0 374.8,43.3 375.2,43.3 375.2,44.5 375.5,44.5 379.9,44.5 380.0,44.5 380.0,45.7 380.3,45.7 380.3,46.9 380.4,46.9 384.9,46.9 385.1,46.9 385.1,47.9 385.4,47.9 385.4,48.9 385.7,48.9 385.7,49.9 385.9,49.9 386.1,49.9 386.1,50.9 386.6,50.9 386.6,51.9 387.1,51.9 387.1,52.9 387.4,52.9 391.9,52.9 392.1,52.9 392.1,53.9 392.4,53.9 392.4,54.9 392.7,54.9 392.7,55.9 392.9,55.9 398.8,55.9 398.9,55.9 398.9,56.9 399.1,56.9 399.1,57.9 399.2,57.9 399.2,58.9 399.3,58.9 410.8,58.9 410.9,58.9 410.9,60.1 411.2,60.1 411.2,61.2 411.6,61.2 411.6,62.4 411.7,62.4 412.7,62.4 412.7,63.8 413.7,63.8 413.9,63.8 413.9,65.1 414.2,65.1 414.2,66.5 414.5,66.5 414.5,67.8 414.7,67.8 417.2,67.8 417.2,67.8 417.2,68.9 417.3,68.9 417.3,70.0 417.4,70.0 417.4,71.2 417.6,71.2 417.6,72.3 417.6,72.3 417.6,73.4 417.7,73.4 493.1,73.4" fill="none" stroke="#44608e" stroke-width="1.25" stroke-linejoin="miter" stroke-linecap="square"/>
<rect x="301.4" y="24.4" width="1.1" height="2.3" fill="#111"/>
<rect x="308.9" y="25.2" width="1.1" height="2.3" fill="#111"/>
<rect x="310.4" y="26.0" width="1.1" height="2.3" fill="#111"/>
<rect x="312.4" y="26.0" width="1.1" height="2.3" fill="#111"/>
<rect x="317.4" y="26.0" width="1.1" height="2.3" fill="#111"/>
<rect x="323.4" y="26.0" width="1.1" height="2.3" fill="#111"/>
<rect x="327.4" y="29.3" width="1.1" height="2.3" fill="#111"/>
<rect x="329.4" y="29.3" width="1.1" height="2.3" fill="#111"/>
<rect x="334.4" y="29.3" width="1.1" height="2.3" fill="#111"/>
<rect x="338.4" y="29.3" width="1.1" height="2.3" fill="#111"/>
<rect x="345.4" y="32.2" width="1.1" height="2.3" fill="#111"/>
<rect x="351.4" y="33.6" width="1.1" height="2.3" fill="#111"/>
<rect x="354.4" y="33.6" width="1.1" height="2.3" fill="#111"/>
<rect x="356.4" y="33.6" width="1.1" height="2.3" fill="#111"/>
<rect x="358.4" y="33.6" width="1.1" height="2.3" fill="#111"/>
<rect x="363.4" y="35.4" width="1.1" height="2.3" fill="#111"/>
<rect x="366.4" y="35.4" width="1.1" height="2.3" fill="#111"/>
<rect x="368.4" y="35.4" width="1.1" height="2.3" fill="#111"/>
<rect x="372.4" y="38.9" width="1.1" height="2.3" fill="#111"/>
<rect x="377.4" y="42.6" width="1.1" height="2.3" fill="#111"/>
<rect x="378.4" y="42.6" width="1.1" height="2.3" fill="#111"/>
<rect x="382.4" y="45.0" width="1.1" height="2.3" fill="#111"/>
<rect x="389.4" y="51.0" width="1.1" height="2.3" fill="#111"/>
<rect x="394.4" y="54.0" width="1.1" height="2.3" fill="#111"/>
<rect x="402.9" y="57.0" width="1.1" height="2.3" fill="#111"/>
<rect x="404.4" y="57.0" width="1.1" height="2.3" fill="#111"/>
<rect x="406.4" y="57.0" width="1.1" height="2.3" fill="#111"/>
<rect x="408.4" y="57.0" width="1.1" height="2.3" fill="#111"/>
<rect x="411.9" y="60.5" width="1.1" height="2.3" fill="#111"/>
<rect x="413.4" y="63.2" width="1.1" height="2.3" fill="#111"/>
<rect x="424.4" y="71.5" width="1.1" height="2.3" fill="#111"/>
<rect x="436.4" y="71.5" width="1.1" height="2.3" fill="#111"/>
<rect x="445.4" y="71.5" width="1.1" height="2.3" fill="#111"/>
<rect x="448.4" y="71.5" width="1.1" height="2.3" fill="#111"/>
<rect x="451.4" y="71.5" width="1.1" height="2.3" fill="#111"/>
<rect x="464.4" y="71.5" width="1.1" height="2.3" fill="#111"/>
<rect x="472.4" y="71.5" width="1.1" height="2.3" fill="#111"/>
<rect x="492.4" y="71.5" width="1.1" height="2.3" fill="#111"/>
<text x="505.8" y="32.6" font-size="8.0" fill="#72b05a" stroke="#72b05a" stroke-width="0.1" text-anchor="end" textLength="74.4" lengthAdjust="spacingAndGlyphs">DoR from Best Response</text>
<text x="493.1" y="60.9" font-size="8.0" fill="#4a689a" stroke="#4a689a" stroke-width="0.1" text-anchor="end" textLength="20.7" lengthAdjust="spacingAndGlyphs">CR/CRi</text>
<text x="493.1" y="69.6" font-size="8.0" fill="#4a689a" stroke="#4a689a" stroke-width="0.1" text-anchor="end" textLength="16.4" lengthAdjust="spacingAndGlyphs">n=96</text>
<text x="494.9" y="115.2" font-size="8.0" fill="#a83347" stroke="#a83347" stroke-width="0.1" text-anchor="end" textLength="23.0" lengthAdjust="spacingAndGlyphs">PR/nPR</text>
<text x="494.6" y="123.9" font-size="8.0" fill="#a83347" stroke="#a83347" stroke-width="0.1" text-anchor="end" textLength="20.0" lengthAdjust="spacingAndGlyphs">n=232</text>
<text x="291.8" y="165.5" font-size="7.6" fill="#4a689a" stroke="#4a689a" stroke-width="0.18" text-anchor="end" textLength="21.0" lengthAdjust="spacingAndGlyphs">CR/CRi</text>
<text x="301.2" y="165.5" font-size="7.6" fill="#4a689a" stroke="#4a689a" stroke-width="0.18" text-anchor="middle" textLength="7.6" lengthAdjust="spacingAndGlyphs">96</text>
<text x="320.1" y="165.5" font-size="7.6" fill="#4a689a" stroke="#4a689a" stroke-width="0.18" text-anchor="middle" textLength="7.6" lengthAdjust="spacingAndGlyphs">83</text>
<text x="338.9" y="165.5" font-size="7.6" fill="#4a689a" stroke="#4a689a" stroke-width="0.18" text-anchor="middle" textLength="7.6" lengthAdjust="spacingAndGlyphs">74</text>
<text x="357.8" y="165.5" font-size="7.6" fill="#4a689a" stroke="#4a689a" stroke-width="0.18" text-anchor="middle" textLength="7.6" lengthAdjust="spacingAndGlyphs">62</text>
<text x="376.6" y="165.5" font-size="7.6" fill="#4a689a" stroke="#4a689a" stroke-width="0.18" text-anchor="middle" textLength="7.6" lengthAdjust="spacingAndGlyphs">39</text>
<text x="395.5" y="165.5" font-size="7.6" fill="#4a689a" stroke="#4a689a" stroke-width="0.18" text-anchor="middle" textLength="7.6" lengthAdjust="spacingAndGlyphs">25</text>
<text x="414.3" y="165.5" font-size="7.6" fill="#4a689a" stroke="#4a689a" stroke-width="0.18" text-anchor="middle" textLength="7.6" lengthAdjust="spacingAndGlyphs">12</text>
<text x="433.2" y="165.5" font-size="7.6" fill="#4a689a" stroke="#4a689a" stroke-width="0.18" text-anchor="middle" textLength="3.8" lengthAdjust="spacingAndGlyphs">7</text>
<text x="452.0" y="165.5" font-size="7.6" fill="#4a689a" stroke="#4a689a" stroke-width="0.18" text-anchor="middle" textLength="3.8" lengthAdjust="spacingAndGlyphs">4</text>
<text x="291.8" y="176.1" font-size="7.6" fill="#a83347" stroke="#a83347" stroke-width="0.18" text-anchor="end" textLength="23.2" lengthAdjust="spacingAndGlyphs">PR/nPR</text>
<text x="301.2" y="176.1" font-size="7.6" fill="#a83347" stroke="#a83347" stroke-width="0.18" text-anchor="middle" textLength="11.4" lengthAdjust="spacingAndGlyphs">232</text>
<text x="320.1" y="176.1" font-size="7.6" fill="#a83347" stroke="#a83347" stroke-width="0.18" text-anchor="middle" textLength="11.4" lengthAdjust="spacingAndGlyphs">177</text>
<text x="338.9" y="176.1" font-size="7.6" fill="#a83347" stroke="#a83347" stroke-width="0.18" text-anchor="middle" textLength="11.4" lengthAdjust="spacingAndGlyphs">139</text>
<text x="357.8" y="176.1" font-size="7.6" fill="#a83347" stroke="#a83347" stroke-width="0.18" text-anchor="middle" textLength="11.4" lengthAdjust="spacingAndGlyphs">106</text>
<text x="376.6" y="176.1" font-size="7.6" fill="#a83347" stroke="#a83347" stroke-width="0.18" text-anchor="middle" textLength="7.6" lengthAdjust="spacingAndGlyphs">67</text>
<text x="395.5" y="176.1" font-size="7.6" fill="#a83347" stroke="#a83347" stroke-width="0.18" text-anchor="middle" textLength="7.6" lengthAdjust="spacingAndGlyphs">40</text>
<text x="414.3" y="176.1" font-size="7.6" fill="#a83347" stroke="#a83347" stroke-width="0.18" text-anchor="middle" textLength="7.6" lengthAdjust="spacingAndGlyphs">24</text>
<text x="433.2" y="176.1" font-size="7.6" fill="#a83347" stroke="#a83347" stroke-width="0.18" text-anchor="middle" textLength="3.8" lengthAdjust="spacingAndGlyphs">9</text>
<text x="452.0" y="176.1" font-size="7.6" fill="#a83347" stroke="#a83347" stroke-width="0.18" text-anchor="middle" textLength="3.8" lengthAdjust="spacingAndGlyphs">2</text>
<text x="7.9" y="212.7" font-size="11" fill="#161616" stroke="#161616" stroke-width="0" text-anchor="start">C</text>
<text transform="translate(16.5,335.9) rotate(-90)" x="0" y="0" font-size="9.8" fill="#161616" stroke="#161616" stroke-width="0.26" textLength="126.1" lengthAdjust="spacingAndGlyphs">Responders not progressing (%)</text>
<line x1="41.20" y1="274.30" x2="249.20" y2="274.30" stroke="#8a8a8a" stroke-width="1.0" stroke-dasharray="3.2,2.13"/>
<line x1="40.60" y1="221.50" x2="40.60" y2="325.10" stroke="#161616" stroke-width="1.1"/>
<line x1="40.10" y1="324.60" x2="251.10" y2="324.60" stroke="#161616" stroke-width="1.1"/>
<line x1="37.90" y1="324.60" x2="40.60" y2="324.60" stroke="#161616" stroke-width="0.9"/>
<line x1="39.30" y1="319.55" x2="40.60" y2="319.55" stroke="#161616" stroke-width="0.9"/>
<text x="35.1" y="327.4" font-size="7.6" fill="#161616" stroke="#161616" stroke-width="0.18" text-anchor="end" textLength="4.0" lengthAdjust="spacingAndGlyphs">0</text>
<line x1="37.90" y1="314.49" x2="40.60" y2="314.49" stroke="#161616" stroke-width="0.9"/>
<line x1="39.30" y1="309.44" x2="40.60" y2="309.44" stroke="#161616" stroke-width="0.9"/>
<text x="35.1" y="317.2" font-size="7.6" fill="#161616" stroke="#161616" stroke-width="0.18" text-anchor="end" textLength="7.9" lengthAdjust="spacingAndGlyphs">10</text>
<line x1="37.90" y1="304.38" x2="40.60" y2="304.38" stroke="#161616" stroke-width="0.9"/>
<line x1="39.30" y1="299.32" x2="40.60" y2="299.32" stroke="#161616" stroke-width="0.9"/>
<text x="35.1" y="307.1" font-size="7.6" fill="#161616" stroke="#161616" stroke-width="0.18" text-anchor="end" textLength="7.9" lengthAdjust="spacingAndGlyphs">20</text>
<line x1="37.90" y1="294.27" x2="40.60" y2="294.27" stroke="#161616" stroke-width="0.9"/>
<line x1="39.30" y1="289.22" x2="40.60" y2="289.22" stroke="#161616" stroke-width="0.9"/>
<text x="35.1" y="297.0" font-size="7.6" fill="#161616" stroke="#161616" stroke-width="0.18" text-anchor="end" textLength="7.9" lengthAdjust="spacingAndGlyphs">30</text>
<line x1="37.90" y1="284.16" x2="40.60" y2="284.16" stroke="#161616" stroke-width="0.9"/>
<line x1="39.30" y1="279.11" x2="40.60" y2="279.11" stroke="#161616" stroke-width="0.9"/>
<text x="35.1" y="286.9" font-size="7.6" fill="#161616" stroke="#161616" stroke-width="0.18" text-anchor="end" textLength="7.9" lengthAdjust="spacingAndGlyphs">40</text>
<line x1="37.90" y1="274.05" x2="40.60" y2="274.05" stroke="#161616" stroke-width="0.9"/>
<line x1="39.30" y1="269.00" x2="40.60" y2="269.00" stroke="#161616" stroke-width="0.9"/>
<text x="35.1" y="276.8" font-size="7.6" fill="#161616" stroke="#161616" stroke-width="0.18" text-anchor="end" textLength="7.9" lengthAdjust="spacingAndGlyphs">50</text>
<line x1="37.90" y1="263.94" x2="40.60" y2="263.94" stroke="#161616" stroke-width="0.9"/>
<line x1="39.30" y1="258.88" x2="40.60" y2="258.88" stroke="#161616" stroke-width="0.9"/>
<text x="35.1" y="266.7" font-size="7.6" fill="#161616" stroke="#161616" stroke-width="0.18" text-anchor="end" textLength="7.9" lengthAdjust="spacingAndGlyphs">60</text>
<line x1="37.90" y1="253.83" x2="40.60" y2="253.83" stroke="#161616" stroke-width="0.9"/>
<line x1="39.30" y1="248.78" x2="40.60" y2="248.78" stroke="#161616" stroke-width="0.9"/>
<text x="35.1" y="256.6" font-size="7.6" fill="#161616" stroke="#161616" stroke-width="0.18" text-anchor="end" textLength="7.9" lengthAdjust="spacingAndGlyphs">70</text>
<line x1="37.90" y1="243.72" x2="40.60" y2="243.72" stroke="#161616" stroke-width="0.9"/>
<line x1="39.30" y1="238.67" x2="40.60" y2="238.67" stroke="#161616" stroke-width="0.9"/>
<text x="35.1" y="246.5" font-size="7.6" fill="#161616" stroke="#161616" stroke-width="0.18" text-anchor="end" textLength="7.9" lengthAdjust="spacingAndGlyphs">80</text>
<line x1="37.90" y1="233.61" x2="40.60" y2="233.61" stroke="#161616" stroke-width="0.9"/>
<line x1="39.30" y1="228.56" x2="40.60" y2="228.56" stroke="#161616" stroke-width="0.9"/>
<text x="35.1" y="236.4" font-size="7.6" fill="#161616" stroke="#161616" stroke-width="0.18" text-anchor="end" textLength="7.9" lengthAdjust="spacingAndGlyphs">90</text>
<line x1="37.90" y1="223.50" x2="40.60" y2="223.50" stroke="#161616" stroke-width="0.9"/>
<text x="35.1" y="226.2" font-size="7.6" fill="#161616" stroke="#161616" stroke-width="0.18" text-anchor="end" textLength="11.9" lengthAdjust="spacingAndGlyphs">100</text>
<line x1="40.60" y1="324.60" x2="40.60" y2="327.30" stroke="#161616" stroke-width="0.9"/>
<line x1="50.05" y1="324.60" x2="50.05" y2="325.90" stroke="#161616" stroke-width="0.9"/>
<text x="40.9" y="337.8" font-size="7.6" fill="#161616" stroke="#161616" stroke-width="0.18" text-anchor="middle" textLength="3.9" lengthAdjust="spacingAndGlyphs">0</text>
<line x1="59.49" y1="324.60" x2="59.49" y2="327.30" stroke="#161616" stroke-width="0.9"/>
<line x1="68.94" y1="324.60" x2="68.94" y2="325.90" stroke="#161616" stroke-width="0.9"/>
<text x="59.8" y="337.8" font-size="7.6" fill="#161616" stroke="#161616" stroke-width="0.18" text-anchor="middle" textLength="3.9" lengthAdjust="spacingAndGlyphs">6</text>
<line x1="78.38" y1="324.60" x2="78.38" y2="327.30" stroke="#161616" stroke-width="0.9"/>
<line x1="87.83" y1="324.60" x2="87.83" y2="325.90" stroke="#161616" stroke-width="0.9"/>
<text x="78.7" y="337.8" font-size="7.6" fill="#161616" stroke="#161616" stroke-width="0.18" text-anchor="middle" textLength="7.7" lengthAdjust="spacingAndGlyphs">12</text>
<line x1="97.27" y1="324.60" x2="97.27" y2="327.30" stroke="#161616" stroke-width="0.9"/>
<line x1="106.72" y1="324.60" x2="106.72" y2="325.90" stroke="#161616" stroke-width="0.9"/>
<text x="97.6" y="337.8" font-size="7.6" fill="#161616" stroke="#161616" stroke-width="0.18" text-anchor="middle" textLength="7.7" lengthAdjust="spacingAndGlyphs">18</text>
<line x1="116.16" y1="324.60" x2="116.16" y2="327.30" stroke="#161616" stroke-width="0.9"/>
<line x1="125.61" y1="324.60" x2="125.61" y2="325.90" stroke="#161616" stroke-width="0.9"/>
<text x="116.5" y="337.8" font-size="7.6" fill="#161616" stroke="#161616" stroke-width="0.18" text-anchor="middle" textLength="7.7" lengthAdjust="spacingAndGlyphs">24</text>
<line x1="135.05" y1="324.60" x2="135.05" y2="327.30" stroke="#161616" stroke-width="0.9"/>
<line x1="144.50" y1="324.60" x2="144.50" y2="325.90" stroke="#161616" stroke-width="0.9"/>
<text x="135.4" y="337.8" font-size="7.6" fill="#161616" stroke="#161616" stroke-width="0.18" text-anchor="middle" textLength="7.7" lengthAdjust="spacingAndGlyphs">30</text>
<line x1="153.95" y1="324.60" x2="153.95" y2="327.30" stroke="#161616" stroke-width="0.9"/>
<line x1="163.39" y1="324.60" x2="163.39" y2="325.90" stroke="#161616" stroke-width="0.9"/>
<text x="154.2" y="337.8" font-size="7.6" fill="#161616" stroke="#161616" stroke-width="0.18" text-anchor="middle" textLength="7.7" lengthAdjust="spacingAndGlyphs">36</text>
<line x1="172.84" y1="324.60" x2="172.84" y2="327.30" stroke="#161616" stroke-width="0.9"/>
<line x1="182.28" y1="324.60" x2="182.28" y2="325.90" stroke="#161616" stroke-width="0.9"/>
<text x="173.1" y="337.8" font-size="7.6" fill="#161616" stroke="#161616" stroke-width="0.18" text-anchor="middle" textLength="7.7" lengthAdjust="spacingAndGlyphs">42</text>
<line x1="191.73" y1="324.60" x2="191.73" y2="327.30" stroke="#161616" stroke-width="0.9"/>
<line x1="201.17" y1="324.60" x2="201.17" y2="325.90" stroke="#161616" stroke-width="0.9"/>
<text x="192.0" y="337.8" font-size="7.6" fill="#161616" stroke="#161616" stroke-width="0.18" text-anchor="middle" textLength="7.7" lengthAdjust="spacingAndGlyphs">48</text>
<line x1="210.62" y1="324.60" x2="210.62" y2="327.30" stroke="#161616" stroke-width="0.9"/>
<line x1="220.06" y1="324.60" x2="220.06" y2="325.90" stroke="#161616" stroke-width="0.9"/>
<text x="210.9" y="337.8" font-size="7.6" fill="#161616" stroke="#161616" stroke-width="0.18" text-anchor="middle" textLength="7.7" lengthAdjust="spacingAndGlyphs">54</text>
<line x1="229.51" y1="324.60" x2="229.51" y2="327.30" stroke="#161616" stroke-width="0.9"/>
<line x1="238.95" y1="324.60" x2="238.95" y2="325.90" stroke="#161616" stroke-width="0.9"/>
<text x="229.8" y="337.8" font-size="7.6" fill="#161616" stroke="#161616" stroke-width="0.18" text-anchor="middle" textLength="7.7" lengthAdjust="spacingAndGlyphs">60</text>
<line x1="248.40" y1="324.60" x2="248.40" y2="327.30" stroke="#161616" stroke-width="0.9"/>
<text x="248.7" y="337.8" font-size="7.6" fill="#161616" stroke="#161616" stroke-width="0.18" text-anchor="middle" textLength="7.7" lengthAdjust="spacingAndGlyphs">66</text>
<text x="83.0" y="350.0" font-size="8.2" fill="#161616" stroke="#161616" stroke-width="0.2" text-anchor="start" textLength="126.7" lengthAdjust="spacingAndGlyphs">Months from 9 month landmark</text>
<polyline points="40.6,223.4 42.2,223.4 42.2,224.1 43.7,224.1 46.5,224.1 46.7,224.1 46.7,225.0 47.0,225.0 47.0,226.0 47.4,226.0 47.4,226.9 47.6,226.9 52.4,226.9 53.3,226.9 53.3,228.0 54.3,228.0 54.6,228.0 54.6,229.1 55.3,229.1 55.3,230.1 56.0,230.1 56.0,231.2 56.3,231.2 58.2,231.2 59.2,231.2 59.2,232.0 60.2,232.0 60.8,232.0 60.8,232.9 62.0,232.9 62.0,233.9 62.6,233.9 63.0,233.9 63.0,234.9 63.7,234.9 63.7,235.9 64.1,235.9 64.4,235.9 64.4,236.9 65.0,236.9 65.0,237.9 65.3,237.9 66.2,237.9 66.2,238.7 68.0,238.7 68.0,239.4 68.9,239.4 72.0,239.4 72.5,239.4 72.5,240.6 73.5,240.6 73.5,241.8 74.0,241.8 75.3,241.8 75.3,243.0 76.7,243.0 77.8,243.0 77.8,243.7 79.0,243.7 80.0,243.7 80.0,244.4 81.0,244.4 81.2,244.4 81.2,245.4 81.5,245.4 81.5,246.4 81.8,246.4 81.8,247.4 82.0,247.4 82.9,247.4 82.9,248.2 84.6,248.2 84.6,248.9 85.5,248.9 86.3,248.9 86.3,249.7 88.1,249.7 88.1,250.4 88.9,250.4 89.4,250.4 89.4,251.5 90.4,251.5 90.4,252.7 91.4,252.7 91.4,253.8 91.9,253.8 93.9,253.8 93.9,254.8 95.9,254.8 96.4,254.8 96.4,255.8 97.4,255.8 97.4,256.8 98.4,256.8 98.4,257.8 98.9,257.8 99.9,257.8 99.9,259.1 101.9,259.1 101.9,260.3 102.9,260.3 104.8,260.3 104.8,261.6 106.8,261.6 107.2,261.6 107.2,263.0 108.1,263.0 108.1,264.4 108.5,264.4 114.4,264.4 115.0,264.4 115.0,265.1 116.3,265.1 116.3,265.9 116.9,265.9 117.2,265.9 117.2,267.1 117.7,267.1 117.7,268.3 117.9,268.3 124.9,268.3 125.7,268.3 125.7,269.1 127.2,269.1 127.2,269.8 127.9,269.8 128.2,269.8 128.2,271.1 128.9,271.1 128.9,272.5 129.6,272.5 129.6,273.8 129.9,273.8 130.9,273.8 130.9,274.8 131.8,274.8 132.8,274.8 132.8,275.8 134.8,275.8 134.8,276.8 135.8,276.8 142.8,276.8 142.9,276.8 142.9,277.9 143.1,277.9 143.1,279.0 143.2,279.0 143.2,280.1 143.3,280.1 151.1,280.1 151.1,282.5 157.7,282.5 157.9,282.5 157.9,283.8 158.3,283.8 158.3,285.1 158.8,285.1 158.8,286.4 159.0,286.4 163.6,286.4 163.6,293.2 168.1,293.2 168.1,296.6 186.5,296.6 186.5,301.9 223.8,301.9" fill="none" stroke="#a2283e" stroke-width="1.25" stroke-linejoin="miter" stroke-linecap="square"/>
<rect x="41.8" y="222.2" width="1.1" height="2.3" fill="#111"/>
<rect x="43.9" y="222.2" width="1.1" height="2.3" fill="#111"/>
<rect x="46.8" y="224.1" width="1.1" height="2.3" fill="#111"/>
<rect x="49.3" y="225.0" width="1.1" height="2.3" fill="#111"/>
<rect x="51.9" y="225.0" width="1.1" height="2.3" fill="#111"/>
<rect x="54.4" y="227.2" width="1.1" height="2.3" fill="#111"/>
<rect x="57.3" y="229.3" width="1.1" height="2.3" fill="#111"/>
<rect x="60.0" y="230.1" width="1.1" height="2.3" fill="#111"/>
<rect x="62.2" y="232.0" width="1.1" height="2.3" fill="#111"/>
<rect x="65.0" y="236.0" width="1.1" height="2.3" fill="#111"/>
<rect x="67.1" y="236.8" width="1.1" height="2.3" fill="#111"/>
<rect x="70.2" y="237.5" width="1.1" height="2.3" fill="#111"/>
<rect x="72.8" y="238.7" width="1.1" height="2.3" fill="#111"/>
<rect x="75.6" y="241.1" width="1.1" height="2.3" fill="#111"/>
<rect x="78.1" y="241.8" width="1.1" height="2.3" fill="#111"/>
<rect x="84.3" y="247.0" width="1.1" height="2.3" fill="#111"/>
<rect x="86.6" y="247.8" width="1.1" height="2.3" fill="#111"/>
<rect x="89.0" y="249.6" width="1.1" height="2.3" fill="#111"/>
<rect x="90.7" y="250.8" width="1.1" height="2.3" fill="#111"/>
<rect x="93.2" y="251.9" width="1.1" height="2.3" fill="#111"/>
<rect x="95.2" y="252.9" width="1.1" height="2.3" fill="#111"/>
<rect x="97.3" y="254.9" width="1.1" height="2.3" fill="#111"/>
<rect x="99.5" y="257.2" width="1.1" height="2.3" fill="#111"/>
<rect x="102.3" y="258.4" width="1.1" height="2.3" fill="#111"/>
<rect x="104.0" y="258.4" width="1.1" height="2.3" fill="#111"/>
<rect x="106.2" y="259.7" width="1.1" height="2.3" fill="#111"/>
<rect x="109.4" y="262.5" width="1.1" height="2.3" fill="#111"/>
<rect x="112.5" y="262.5" width="1.1" height="2.3" fill="#111"/>
<rect x="114.7" y="263.2" width="1.1" height="2.3" fill="#111"/>
<rect x="117.8" y="266.4" width="1.1" height="2.3" fill="#111"/>
<rect x="120.7" y="266.4" width="1.1" height="2.3" fill="#111"/>
<rect x="123.8" y="266.4" width="1.1" height="2.3" fill="#111"/>
<rect x="126.5" y="267.2" width="1.1" height="2.3" fill="#111"/>
<rect x="129.3" y="271.9" width="1.1" height="2.3" fill="#111"/>
<rect x="131.7" y="272.9" width="1.1" height="2.3" fill="#111"/>
<rect x="134.6" y="274.9" width="1.1" height="2.3" fill="#111"/>
<rect x="137.3" y="274.9" width="1.1" height="2.3" fill="#111"/>
<rect x="140.6" y="274.9" width="1.1" height="2.3" fill="#111"/>
<rect x="143.4" y="278.2" width="1.1" height="2.3" fill="#111"/>
<rect x="145.6" y="278.2" width="1.1" height="2.3" fill="#111"/>
<rect x="148.4" y="278.2" width="1.1" height="2.3" fill="#111"/>
<rect x="151.2" y="280.6" width="1.1" height="2.3" fill="#111"/>
<rect x="154.0" y="280.6" width="1.1" height="2.3" fill="#111"/>
<rect x="157.0" y="280.6" width="1.1" height="2.3" fill="#111"/>
<rect x="159.9" y="284.5" width="1.1" height="2.3" fill="#111"/>
<rect x="162.5" y="284.5" width="1.1" height="2.3" fill="#111"/>
<rect x="165.1" y="291.3" width="1.1" height="2.3" fill="#111"/>
<rect x="168.2" y="294.7" width="1.1" height="2.3" fill="#111"/>
<rect x="187.4" y="300.0" width="1.1" height="2.3" fill="#111"/>
<rect x="196.4" y="300.0" width="1.1" height="2.3" fill="#111"/>
<rect x="204.4" y="300.0" width="1.1" height="2.3" fill="#111"/>
<rect x="222.4" y="300.0" width="1.1" height="2.3" fill="#111"/>
<polyline points="40.6,223.4 46.5,223.4 46.5,223.9 49.5,223.9 49.8,223.9 49.8,224.8 50.5,224.8 50.5,225.7 50.8,225.7 63.5,225.7 63.5,228.4 72.2,228.4 72.2,230.8 91.4,230.8 91.4,233.5 101.4,233.5 101.5,233.5 101.5,234.7 101.8,234.7 101.8,235.9 101.9,235.9 102.6,235.9 102.6,236.9 103.3,236.9 103.4,236.9 103.4,237.9 103.5,237.9 103.5,238.9 103.7,238.9 103.7,239.9 103.8,239.9 106.3,239.9 106.4,239.9 106.4,241.0 106.5,241.0 106.5,242.1 106.7,242.1 106.7,243.2 106.8,243.2 118.4,243.2 118.4,246.6 128.9,246.6 128.9,250.0 130.3,250.0 130.3,254.4 147.7,254.4 147.7,260.2 186.5,260.2 186.5,269.3 230.3,269.3" fill="none" stroke="#44608e" stroke-width="1.25" stroke-linejoin="miter" stroke-linecap="square"/>
<rect x="43.5" y="221.5" width="1.1" height="2.3" fill="#111"/>
<rect x="46.5" y="222.0" width="1.1" height="2.3" fill="#111"/>
<rect x="49.5" y="222.9" width="1.1" height="2.3" fill="#111"/>
<rect x="52.5" y="223.8" width="1.1" height="2.3" fill="#111"/>
<rect x="55.5" y="223.8" width="1.1" height="2.3" fill="#111"/>
<rect x="57.5" y="223.8" width="1.1" height="2.3" fill="#111"/>
<rect x="82.5" y="228.9" width="1.1" height="2.3" fill="#111"/>
<rect x="95.0" y="231.6" width="1.1" height="2.3" fill="#111"/>
<rect x="97.0" y="231.6" width="1.1" height="2.3" fill="#111"/>
<rect x="99.5" y="231.6" width="1.1" height="2.3" fill="#111"/>
<rect x="102.0" y="234.0" width="1.1" height="2.3" fill="#111"/>
<rect x="109.0" y="241.3" width="1.1" height="2.3" fill="#111"/>
<rect x="119.5" y="244.7" width="1.1" height="2.3" fill="#111"/>
<rect x="122.5" y="244.7" width="1.1" height="2.3" fill="#111"/>
<rect x="129.4" y="248.1" width="1.1" height="2.3" fill="#111"/>
<rect x="136.9" y="252.5" width="1.1" height="2.3" fill="#111"/>
<rect x="139.9" y="252.5" width="1.1" height="2.3" fill="#111"/>
<rect x="141.4" y="252.5" width="1.1" height="2.3" fill="#111"/>
<rect x="149.4" y="258.3" width="1.1" height="2.3" fill="#111"/>
<rect x="156.9" y="258.3" width="1.1" height="2.3" fill="#111"/>
<rect x="164.9" y="258.3" width="1.1" height="2.3" fill="#111"/>
<rect x="169.9" y="258.3" width="1.1" height="2.3" fill="#111"/>
<rect x="189.4" y="267.4" width="1.1" height="2.3" fill="#111"/>
<rect x="197.4" y="267.4" width="1.1" height="2.3" fill="#111"/>
<rect x="199.4" y="267.4" width="1.1" height="2.3" fill="#111"/>
<rect x="203.4" y="267.4" width="1.1" height="2.3" fill="#111"/>
<rect x="215.4" y="267.4" width="1.1" height="2.3" fill="#111"/>
<rect x="229.4" y="267.4" width="1.1" height="2.3" fill="#111"/>
<text x="248.4" y="226.6" font-size="8.0" fill="#72b05a" stroke="#72b05a" stroke-width="0.1" text-anchor="end" textLength="80.4" lengthAdjust="spacingAndGlyphs">DoR stratified by response</text>
<text x="248.4" y="235.1" font-size="8.0" fill="#72b05a" stroke="#72b05a" stroke-width="0.1" text-anchor="end" textLength="64.6" lengthAdjust="spacingAndGlyphs">at 9 month landmark</text>
<text x="226.4" y="257.1" font-size="8.0" fill="#4a689a" stroke="#4a689a" stroke-width="0.1" text-anchor="end" textLength="21.6" lengthAdjust="spacingAndGlyphs">CR/CRi</text>
<text x="226.1" y="266.1" font-size="8.0" fill="#4a689a" stroke="#4a689a" stroke-width="0.1" text-anchor="end" textLength="16.5" lengthAdjust="spacingAndGlyphs">n=47</text>
<text x="218.1" y="312.2" font-size="8.0" fill="#a83347" stroke="#a83347" stroke-width="0.1" text-anchor="end" textLength="23.1" lengthAdjust="spacingAndGlyphs">PR/nPR</text>
<text x="217.7" y="321.1" font-size="8.0" fill="#a83347" stroke="#a83347" stroke-width="0.1" text-anchor="end" textLength="20.1" lengthAdjust="spacingAndGlyphs">n=242</text>
<text x="45.4" y="311.2" font-size="6.8" fill="#161616" stroke="#161616" stroke-width="0.18" text-anchor="start" textLength="67.6" lengthAdjust="spacingAndGlyphs">HR 0.4 (95% CI 0.2-0.8)</text>
<text x="45.4" y="319.2" font-size="6.8" fill="#161616" stroke="#161616" stroke-width="0.18" text-anchor="start" textLength="25.0" lengthAdjust="spacingAndGlyphs">p=0.004</text>
<text x="32.3" y="362.5" font-size="7.6" fill="#4a689a" stroke="#4a689a" stroke-width="0.18" text-anchor="end" textLength="21.0" lengthAdjust="spacingAndGlyphs">CR/CRi</text>
<text x="41.2" y="362.5" font-size="7.6" fill="#4a689a" stroke="#4a689a" stroke-width="0.18" text-anchor="middle" textLength="7.6" lengthAdjust="spacingAndGlyphs">47</text>
<text x="60.1" y="362.5" font-size="7.6" fill="#4a689a" stroke="#4a689a" stroke-width="0.18" text-anchor="middle" textLength="7.6" lengthAdjust="spacingAndGlyphs">42</text>
<text x="79.0" y="362.5" font-size="7.6" fill="#4a689a" stroke="#4a689a" stroke-width="0.18" text-anchor="middle" textLength="7.6" lengthAdjust="spacingAndGlyphs">36</text>
<text x="97.9" y="362.5" font-size="7.6" fill="#4a689a" stroke="#4a689a" stroke-width="0.18" text-anchor="middle" textLength="7.6" lengthAdjust="spacingAndGlyphs">33</text>
<text x="116.8" y="362.5" font-size="7.6" fill="#4a689a" stroke="#4a689a" stroke-width="0.18" text-anchor="middle" textLength="7.6" lengthAdjust="spacingAndGlyphs">24</text>
<text x="135.7" y="362.5" font-size="7.6" fill="#4a689a" stroke="#4a689a" stroke-width="0.18" text-anchor="middle" textLength="7.6" lengthAdjust="spacingAndGlyphs">17</text>
<text x="154.5" y="362.5" font-size="7.6" fill="#4a689a" stroke="#4a689a" stroke-width="0.18" text-anchor="middle" textLength="7.6" lengthAdjust="spacingAndGlyphs">10</text>
<text x="173.4" y="362.5" font-size="7.6" fill="#4a689a" stroke="#4a689a" stroke-width="0.18" text-anchor="middle" textLength="3.8" lengthAdjust="spacingAndGlyphs">7</text>
<text x="192.3" y="362.5" font-size="7.6" fill="#4a689a" stroke="#4a689a" stroke-width="0.18" text-anchor="middle" textLength="3.8" lengthAdjust="spacingAndGlyphs">6</text>
<text x="32.3" y="373.3" font-size="7.6" fill="#a83347" stroke="#a83347" stroke-width="0.18" text-anchor="end" textLength="23.0" lengthAdjust="spacingAndGlyphs">PR/nPR</text>
<text x="41.2" y="373.3" font-size="7.6" fill="#a83347" stroke="#a83347" stroke-width="0.18" text-anchor="middle" textLength="11.4" lengthAdjust="spacingAndGlyphs">242</text>
<text x="60.1" y="373.3" font-size="7.6" fill="#a83347" stroke="#a83347" stroke-width="0.18" text-anchor="middle" textLength="11.4" lengthAdjust="spacingAndGlyphs">203</text>
<text x="79.0" y="373.3" font-size="7.6" fill="#a83347" stroke="#a83347" stroke-width="0.18" text-anchor="middle" textLength="11.4" lengthAdjust="spacingAndGlyphs">162</text>
<text x="97.9" y="373.3" font-size="7.6" fill="#a83347" stroke="#a83347" stroke-width="0.18" text-anchor="middle" textLength="11.4" lengthAdjust="spacingAndGlyphs">122</text>
<text x="116.8" y="373.3" font-size="7.6" fill="#a83347" stroke="#a83347" stroke-width="0.18" text-anchor="middle" textLength="7.6" lengthAdjust="spacingAndGlyphs">82</text>
<text x="135.7" y="373.3" font-size="7.6" fill="#a83347" stroke="#a83347" stroke-width="0.18" text-anchor="middle" textLength="7.6" lengthAdjust="spacingAndGlyphs">50</text>
<text x="154.5" y="373.3" font-size="7.6" fill="#a83347" stroke="#a83347" stroke-width="0.18" text-anchor="middle" textLength="7.6" lengthAdjust="spacingAndGlyphs">21</text>
<text x="173.4" y="373.3" font-size="7.6" fill="#a83347" stroke="#a83347" stroke-width="0.18" text-anchor="middle" textLength="3.8" lengthAdjust="spacingAndGlyphs">5</text>
<text x="192.3" y="373.3" font-size="7.6" fill="#a83347" stroke="#a83347" stroke-width="0.18" text-anchor="middle" textLength="3.8" lengthAdjust="spacingAndGlyphs">3</text>
<text x="263.3" y="213.6" font-size="11" fill="#161616" stroke="#161616" stroke-width="0" text-anchor="start">D</text>
<text transform="translate(276.2,335.9) rotate(-90)" x="0" y="0" font-size="9.8" fill="#161616" stroke="#161616" stroke-width="0.26" textLength="126.1" lengthAdjust="spacingAndGlyphs">Responders not progressing (%)</text>
<line x1="300.80" y1="274.30" x2="508.70" y2="274.30" stroke="#8a8a8a" stroke-width="1.0" stroke-dasharray="3.2,2.13"/>
<line x1="300.50" y1="221.30" x2="300.50" y2="325.30" stroke="#161616" stroke-width="1.1"/>
<line x1="300.00" y1="324.80" x2="511.00" y2="324.80" stroke="#161616" stroke-width="1.1"/>
<line x1="297.80" y1="324.80" x2="300.50" y2="324.80" stroke="#161616" stroke-width="0.9"/>
<line x1="299.20" y1="319.73" x2="300.50" y2="319.73" stroke="#161616" stroke-width="0.9"/>
<text x="293.9" y="327.6" font-size="7.6" fill="#161616" stroke="#161616" stroke-width="0.18" text-anchor="end" textLength="4.0" lengthAdjust="spacingAndGlyphs">0</text>
<line x1="297.80" y1="314.65" x2="300.50" y2="314.65" stroke="#161616" stroke-width="0.9"/>
<line x1="299.20" y1="309.58" x2="300.50" y2="309.58" stroke="#161616" stroke-width="0.9"/>
<text x="293.9" y="317.4" font-size="7.6" fill="#161616" stroke="#161616" stroke-width="0.18" text-anchor="end" textLength="7.9" lengthAdjust="spacingAndGlyphs">10</text>
<line x1="297.80" y1="304.50" x2="300.50" y2="304.50" stroke="#161616" stroke-width="0.9"/>
<line x1="299.20" y1="299.43" x2="300.50" y2="299.43" stroke="#161616" stroke-width="0.9"/>
<text x="293.9" y="307.2" font-size="7.6" fill="#161616" stroke="#161616" stroke-width="0.18" text-anchor="end" textLength="7.9" lengthAdjust="spacingAndGlyphs">20</text>
<line x1="297.80" y1="294.35" x2="300.50" y2="294.35" stroke="#161616" stroke-width="0.9"/>
<line x1="299.20" y1="289.28" x2="300.50" y2="289.28" stroke="#161616" stroke-width="0.9"/>
<text x="293.9" y="297.1" font-size="7.6" fill="#161616" stroke="#161616" stroke-width="0.18" text-anchor="end" textLength="7.9" lengthAdjust="spacingAndGlyphs">30</text>
<line x1="297.80" y1="284.20" x2="300.50" y2="284.20" stroke="#161616" stroke-width="0.9"/>
<line x1="299.20" y1="279.13" x2="300.50" y2="279.13" stroke="#161616" stroke-width="0.9"/>
<text x="293.9" y="287.0" font-size="7.6" fill="#161616" stroke="#161616" stroke-width="0.18" text-anchor="end" textLength="7.9" lengthAdjust="spacingAndGlyphs">40</text>
<line x1="297.80" y1="274.05" x2="300.50" y2="274.05" stroke="#161616" stroke-width="0.9"/>
<line x1="299.20" y1="268.98" x2="300.50" y2="268.98" stroke="#161616" stroke-width="0.9"/>
<text x="293.9" y="276.8" font-size="7.6" fill="#161616" stroke="#161616" stroke-width="0.18" text-anchor="end" textLength="7.9" lengthAdjust="spacingAndGlyphs">50</text>
<line x1="297.80" y1="263.90" x2="300.50" y2="263.90" stroke="#161616" stroke-width="0.9"/>
<line x1="299.20" y1="258.83" x2="300.50" y2="258.83" stroke="#161616" stroke-width="0.9"/>
<text x="293.9" y="266.7" font-size="7.6" fill="#161616" stroke="#161616" stroke-width="0.18" text-anchor="end" textLength="7.9" lengthAdjust="spacingAndGlyphs">60</text>
<line x1="297.80" y1="253.75" x2="300.50" y2="253.75" stroke="#161616" stroke-width="0.9"/>
<line x1="299.20" y1="248.68" x2="300.50" y2="248.68" stroke="#161616" stroke-width="0.9"/>
<text x="293.9" y="256.5" font-size="7.6" fill="#161616" stroke="#161616" stroke-width="0.18" text-anchor="end" textLength="7.9" lengthAdjust="spacingAndGlyphs">70</text>
<line x1="297.80" y1="243.60" x2="300.50" y2="243.60" stroke="#161616" stroke-width="0.9"/>
<line x1="299.20" y1="238.53" x2="300.50" y2="238.53" stroke="#161616" stroke-width="0.9"/>
<text x="293.9" y="246.4" font-size="7.6" fill="#161616" stroke="#161616" stroke-width="0.18" text-anchor="end" textLength="7.9" lengthAdjust="spacingAndGlyphs">80</text>
<line x1="297.80" y1="233.45" x2="300.50" y2="233.45" stroke="#161616" stroke-width="0.9"/>
<line x1="299.20" y1="228.38" x2="300.50" y2="228.38" stroke="#161616" stroke-width="0.9"/>
<text x="293.9" y="236.2" font-size="7.6" fill="#161616" stroke="#161616" stroke-width="0.18" text-anchor="end" textLength="7.9" lengthAdjust="spacingAndGlyphs">90</text>
<line x1="297.80" y1="223.30" x2="300.50" y2="223.30" stroke="#161616" stroke-width="0.9"/>
<text x="293.9" y="226.1" font-size="7.6" fill="#161616" stroke="#161616" stroke-width="0.18" text-anchor="end" textLength="11.9" lengthAdjust="spacingAndGlyphs">100</text>
<line x1="300.50" y1="324.80" x2="300.50" y2="327.50" stroke="#161616" stroke-width="0.9"/>
<line x1="313.51" y1="324.80" x2="313.51" y2="326.10" stroke="#161616" stroke-width="0.9"/>
<text x="300.8" y="337.8" font-size="7.6" fill="#161616" stroke="#161616" stroke-width="0.18" text-anchor="middle" textLength="3.9" lengthAdjust="spacingAndGlyphs">0</text>
<line x1="326.52" y1="324.80" x2="326.52" y2="327.50" stroke="#161616" stroke-width="0.9"/>
<line x1="339.54" y1="324.80" x2="339.54" y2="326.10" stroke="#161616" stroke-width="0.9"/>
<text x="326.8" y="337.8" font-size="7.6" fill="#161616" stroke="#161616" stroke-width="0.18" text-anchor="middle" textLength="3.9" lengthAdjust="spacingAndGlyphs">6</text>
<line x1="352.55" y1="324.80" x2="352.55" y2="327.50" stroke="#161616" stroke-width="0.9"/>
<line x1="365.56" y1="324.80" x2="365.56" y2="326.10" stroke="#161616" stroke-width="0.9"/>
<text x="352.9" y="337.8" font-size="7.6" fill="#161616" stroke="#161616" stroke-width="0.18" text-anchor="middle" textLength="7.7" lengthAdjust="spacingAndGlyphs">12</text>
<line x1="378.57" y1="324.80" x2="378.57" y2="327.50" stroke="#161616" stroke-width="0.9"/>
<line x1="391.59" y1="324.80" x2="391.59" y2="326.10" stroke="#161616" stroke-width="0.9"/>
<text x="378.9" y="337.8" font-size="7.6" fill="#161616" stroke="#161616" stroke-width="0.18" text-anchor="middle" textLength="7.7" lengthAdjust="spacingAndGlyphs">18</text>
<line x1="404.60" y1="324.80" x2="404.60" y2="327.50" stroke="#161616" stroke-width="0.9"/>
<line x1="417.61" y1="324.80" x2="417.61" y2="326.10" stroke="#161616" stroke-width="0.9"/>
<text x="404.9" y="337.8" font-size="7.6" fill="#161616" stroke="#161616" stroke-width="0.18" text-anchor="middle" textLength="7.7" lengthAdjust="spacingAndGlyphs">24</text>
<line x1="430.62" y1="324.80" x2="430.62" y2="327.50" stroke="#161616" stroke-width="0.9"/>
<line x1="443.64" y1="324.80" x2="443.64" y2="326.10" stroke="#161616" stroke-width="0.9"/>
<text x="430.9" y="337.8" font-size="7.6" fill="#161616" stroke="#161616" stroke-width="0.18" text-anchor="middle" textLength="7.7" lengthAdjust="spacingAndGlyphs">30</text>
<line x1="456.65" y1="324.80" x2="456.65" y2="327.50" stroke="#161616" stroke-width="0.9"/>
<line x1="469.66" y1="324.80" x2="469.66" y2="326.10" stroke="#161616" stroke-width="0.9"/>
<text x="456.9" y="337.8" font-size="7.6" fill="#161616" stroke="#161616" stroke-width="0.18" text-anchor="middle" textLength="7.7" lengthAdjust="spacingAndGlyphs">36</text>
<line x1="482.67" y1="324.80" x2="482.67" y2="327.50" stroke="#161616" stroke-width="0.9"/>
<line x1="495.69" y1="324.80" x2="495.69" y2="326.10" stroke="#161616" stroke-width="0.9"/>
<text x="483.0" y="337.8" font-size="7.6" fill="#161616" stroke="#161616" stroke-width="0.18" text-anchor="middle" textLength="7.7" lengthAdjust="spacingAndGlyphs">42</text>
<line x1="508.70" y1="324.80" x2="508.70" y2="327.50" stroke="#161616" stroke-width="0.9"/>
<text x="509.0" y="337.8" font-size="7.6" fill="#161616" stroke="#161616" stroke-width="0.18" text-anchor="middle" textLength="7.7" lengthAdjust="spacingAndGlyphs">48</text>
<text x="340.3" y="350.0" font-size="8.2" fill="#161616" stroke="#161616" stroke-width="0.2" text-anchor="start" textLength="132.0" lengthAdjust="spacingAndGlyphs">Months from 24 month landmark</text>
<polyline points="300.6,223.2 302.2,223.2 302.2,223.5 303.8,223.5 303.8,230.4 315.3,230.4 315.3,233.5 318.2,233.5 318.4,233.5 318.4,234.7 318.7,234.7 318.7,236.0 319.0,236.0 319.0,237.2 319.2,237.2 319.5,237.2 319.5,238.4 320.2,238.4 320.2,239.7 320.5,239.7 327.2,239.7 327.2,245.2 327.4,245.2 327.4,246.4 327.9,246.4 327.9,247.7 328.3,247.7 328.3,248.9 328.5,248.9 336.5,248.9 336.6,248.9 336.6,250.1 337.0,250.1 337.0,251.2 337.1,251.2 340.8,251.2 340.9,251.2 340.9,252.3 341.1,252.3 341.1,253.4 341.3,253.4 341.3,254.5 341.4,254.5 341.8,254.5 341.8,255.5 342.6,255.5 342.6,256.6 343.5,256.6 343.5,257.6 343.9,257.6 351.9,257.6 351.9,263.7 356.2,263.7 356.3,263.7 356.3,265.1 356.6,265.1 356.6,266.4 356.9,266.4 356.9,267.8 357.2,267.8 357.2,269.1 357.4,269.1 387.5,269.1 387.5,275.7 396.4,275.7 396.4,284.2 404.1,284.2 404.1,294.5 458.5,294.5" fill="none" stroke="#a2283e" stroke-width="1.25" stroke-linejoin="miter" stroke-linecap="square"/>
<rect x="301.9" y="221.6" width="1.1" height="2.3" fill="#111"/>
<rect x="303.4" y="228.5" width="1.1" height="2.3" fill="#111"/>
<rect x="308.4" y="228.5" width="1.1" height="2.3" fill="#111"/>
<rect x="315.4" y="231.6" width="1.1" height="2.3" fill="#111"/>
<rect x="320.4" y="237.8" width="1.1" height="2.3" fill="#111"/>
<rect x="324.4" y="237.8" width="1.1" height="2.3" fill="#111"/>
<rect x="325.4" y="237.8" width="1.1" height="2.3" fill="#111"/>
<rect x="330.4" y="247.0" width="1.1" height="2.3" fill="#111"/>
<rect x="355.4" y="261.8" width="1.1" height="2.3" fill="#111"/>
<rect x="359.4" y="267.2" width="1.1" height="2.3" fill="#111"/>
<rect x="363.4" y="267.2" width="1.1" height="2.3" fill="#111"/>
<rect x="386.9" y="267.2" width="1.1" height="2.3" fill="#111"/>
<rect x="400.4" y="282.3" width="1.1" height="2.3" fill="#111"/>
<rect x="433.4" y="292.6" width="1.1" height="2.3" fill="#111"/>
<rect x="437.4" y="292.6" width="1.1" height="2.3" fill="#111"/>
<rect x="451.4" y="292.6" width="1.1" height="2.3" fill="#111"/>
<rect x="457.4" y="292.6" width="1.1" height="2.3" fill="#111"/>
<polyline points="300.6,223.2 302.7,223.2 303.5,223.2 303.5,224.4 304.3,224.4 304.9,224.4 304.9,225.6 306.0,225.6 306.0,226.8 306.6,226.8 307.1,226.8 307.1,227.7 308.1,227.7 308.1,228.5 308.6,228.5 311.0,228.5 311.0,229.4 313.4,229.4 320.0,229.4 320.2,229.4 320.2,230.4 320.6,230.4 320.6,231.3 320.9,231.3 320.9,232.3 321.1,232.3 340.2,232.3 340.2,235.4 361.1,235.4 361.1,238.8 382.5,238.8 382.5,244.5 410.7,244.5 410.7,260.2 436.1,260.2 436.1,282.1 495.7,282.1" fill="none" stroke="#44608e" stroke-width="1.25" stroke-linejoin="miter" stroke-linecap="square"/>
<rect x="301.4" y="221.3" width="1.1" height="2.3" fill="#111"/>
<rect x="303.4" y="222.5" width="1.1" height="2.3" fill="#111"/>
<rect x="305.4" y="223.7" width="1.1" height="2.3" fill="#111"/>
<rect x="307.4" y="225.8" width="1.1" height="2.3" fill="#111"/>
<rect x="311.4" y="227.5" width="1.1" height="2.3" fill="#111"/>
<rect x="315.4" y="227.5" width="1.1" height="2.3" fill="#111"/>
<rect x="318.4" y="227.5" width="1.1" height="2.3" fill="#111"/>
<rect x="329.4" y="230.4" width="1.1" height="2.3" fill="#111"/>
<rect x="332.4" y="230.4" width="1.1" height="2.3" fill="#111"/>
<rect x="342.9" y="233.5" width="1.1" height="2.3" fill="#111"/>
<rect x="349.9" y="233.5" width="1.1" height="2.3" fill="#111"/>
<rect x="355.4" y="233.5" width="1.1" height="2.3" fill="#111"/>
<rect x="357.4" y="233.5" width="1.1" height="2.3" fill="#111"/>
<rect x="359.4" y="233.5" width="1.1" height="2.3" fill="#111"/>
<rect x="375.4" y="236.9" width="1.1" height="2.3" fill="#111"/>
<rect x="383.4" y="242.6" width="1.1" height="2.3" fill="#111"/>
<rect x="389.4" y="242.6" width="1.1" height="2.3" fill="#111"/>
<rect x="392.4" y="242.6" width="1.1" height="2.3" fill="#111"/>
<rect x="394.4" y="242.6" width="1.1" height="2.3" fill="#111"/>
<rect x="396.4" y="242.6" width="1.1" height="2.3" fill="#111"/>
<rect x="398.4" y="242.6" width="1.1" height="2.3" fill="#111"/>
<rect x="400.4" y="242.6" width="1.1" height="2.3" fill="#111"/>
<rect x="406.4" y="242.6" width="1.1" height="2.3" fill="#111"/>
<rect x="413.4" y="258.3" width="1.1" height="2.3" fill="#111"/>
<rect x="437.4" y="280.2" width="1.1" height="2.3" fill="#111"/>
<rect x="458.4" y="280.2" width="1.1" height="2.3" fill="#111"/>
<rect x="494.4" y="280.2" width="1.1" height="2.3" fill="#111"/>
<text x="509.9" y="226.5" font-size="8.0" fill="#72b05a" stroke="#72b05a" stroke-width="0.1" text-anchor="end" textLength="87.2" lengthAdjust="spacingAndGlyphs">DoR stratified by <tspan font-style="italic">MRD</tspan> status</text>
<text x="509.9" y="234.8" font-size="8.0" fill="#72b05a" stroke="#72b05a" stroke-width="0.1" text-anchor="end" textLength="68.1" lengthAdjust="spacingAndGlyphs">at 24 month landmark</text>
<text x="495.7" y="291.0" font-size="8.0" fill="#4a689a" stroke="#4a689a" stroke-width="0.1" text-anchor="end" textLength="21.6" lengthAdjust="spacingAndGlyphs">U-MRD</text>
<text x="495.7" y="300.4" font-size="8.0" fill="#4a689a" stroke="#4a689a" stroke-width="0.1" text-anchor="end" textLength="15.5" lengthAdjust="spacingAndGlyphs">n=72</text>
<text x="458.2" y="304.3" font-size="8.0" fill="#a83347" stroke="#a83347" stroke-width="0.1" text-anchor="end" textLength="40.2" lengthAdjust="spacingAndGlyphs">MRD positive</text>
<text x="458.2" y="313.0" font-size="8.0" fill="#a83347" stroke="#a83347" stroke-width="0.1" text-anchor="end" textLength="15.7" lengthAdjust="spacingAndGlyphs">n=52</text>
<text x="305.0" y="309.6" font-size="6.8" fill="#161616" stroke="#161616" stroke-width="0.18" text-anchor="start" textLength="67.9" lengthAdjust="spacingAndGlyphs">HR 0.3 (95% CI 0.2-0.7)</text>
<text x="305.0" y="317.9" font-size="6.8" fill="#161616" stroke="#161616" stroke-width="0.18" text-anchor="start" textLength="25.0" lengthAdjust="spacingAndGlyphs">p=0.005</text>
<text x="294.3" y="362.6" font-size="7.6" fill="#4a689a" stroke="#4a689a" stroke-width="0.18" text-anchor="end" textLength="22.2" lengthAdjust="spacingAndGlyphs">U-<tspan font-style="italic">MRD</tspan></text>
<text x="301.1" y="362.6" font-size="7.6" fill="#4a689a" stroke="#4a689a" stroke-width="0.18" text-anchor="middle" textLength="7.6" lengthAdjust="spacingAndGlyphs">61</text>
<text x="327.1" y="362.6" font-size="7.6" fill="#4a689a" stroke="#4a689a" stroke-width="0.18" text-anchor="middle" textLength="7.6" lengthAdjust="spacingAndGlyphs">40</text>
<text x="353.2" y="362.6" font-size="7.6" fill="#4a689a" stroke="#4a689a" stroke-width="0.18" text-anchor="middle" textLength="7.6" lengthAdjust="spacingAndGlyphs">32</text>
<text x="379.2" y="362.6" font-size="7.6" fill="#4a689a" stroke="#4a689a" stroke-width="0.18" text-anchor="middle" textLength="7.6" lengthAdjust="spacingAndGlyphs">15</text>
<text x="405.2" y="362.6" font-size="7.6" fill="#4a689a" stroke="#4a689a" stroke-width="0.18" text-anchor="middle" textLength="3.8" lengthAdjust="spacingAndGlyphs">7</text>
<text x="431.2" y="362.6" font-size="7.6" fill="#4a689a" stroke="#4a689a" stroke-width="0.18" text-anchor="middle" textLength="3.8" lengthAdjust="spacingAndGlyphs">3</text>
<text x="294.3" y="373.4" font-size="7.6" fill="#a83347" stroke="#a83347" stroke-width="0.18" text-anchor="end" textLength="29.0" lengthAdjust="spacingAndGlyphs"><tspan font-style="italic">MRD</tspan>-pos</text>
<text x="301.1" y="373.4" font-size="7.6" fill="#a83347" stroke="#a83347" stroke-width="0.18" text-anchor="middle" textLength="7.6" lengthAdjust="spacingAndGlyphs">62</text>
<text x="327.1" y="373.4" font-size="7.6" fill="#a83347" stroke="#a83347" stroke-width="0.18" text-anchor="middle" textLength="7.6" lengthAdjust="spacingAndGlyphs">37</text>
<text x="353.2" y="373.4" font-size="7.6" fill="#a83347" stroke="#a83347" stroke-width="0.18" text-anchor="middle" textLength="7.6" lengthAdjust="spacingAndGlyphs">25</text>
<text x="379.2" y="373.4" font-size="7.6" fill="#a83347" stroke="#a83347" stroke-width="0.18" text-anchor="middle" textLength="3.8" lengthAdjust="spacingAndGlyphs">8</text>
<text x="405.2" y="373.4" font-size="7.6" fill="#a83347" stroke="#a83347" stroke-width="0.18" text-anchor="middle" textLength="3.8" lengthAdjust="spacingAndGlyphs">3</text>
<text x="431.2" y="373.4" font-size="7.6" fill="#a83347" stroke="#a83347" stroke-width="0.18" text-anchor="middle" textLength="3.8" lengthAdjust="spacingAndGlyphs">3</text>
<rect x="0" y="1" width="520" height="1" fill="#a8a8a8"/>
<rect x="0" y="380" width="520" height="1" fill="#8c8c8c"/>
<rect x="1" y="0" width="1" height="382" fill="#a0a0a0"/>
<rect x="518" y="0" width="1" height="382" fill="#bdbdbd"/>
<rect x="0" y="0" width="520" height="1" fill="#474747"/>
<rect x="0" y="381" width="520" height="1" fill="#474747"/>
<rect x="0" y="0" width="1" height="382" fill="#474747"/>
<rect x="519" y="0" width="1" height="382" fill="#474747"/>
</svg>
</body></html>
